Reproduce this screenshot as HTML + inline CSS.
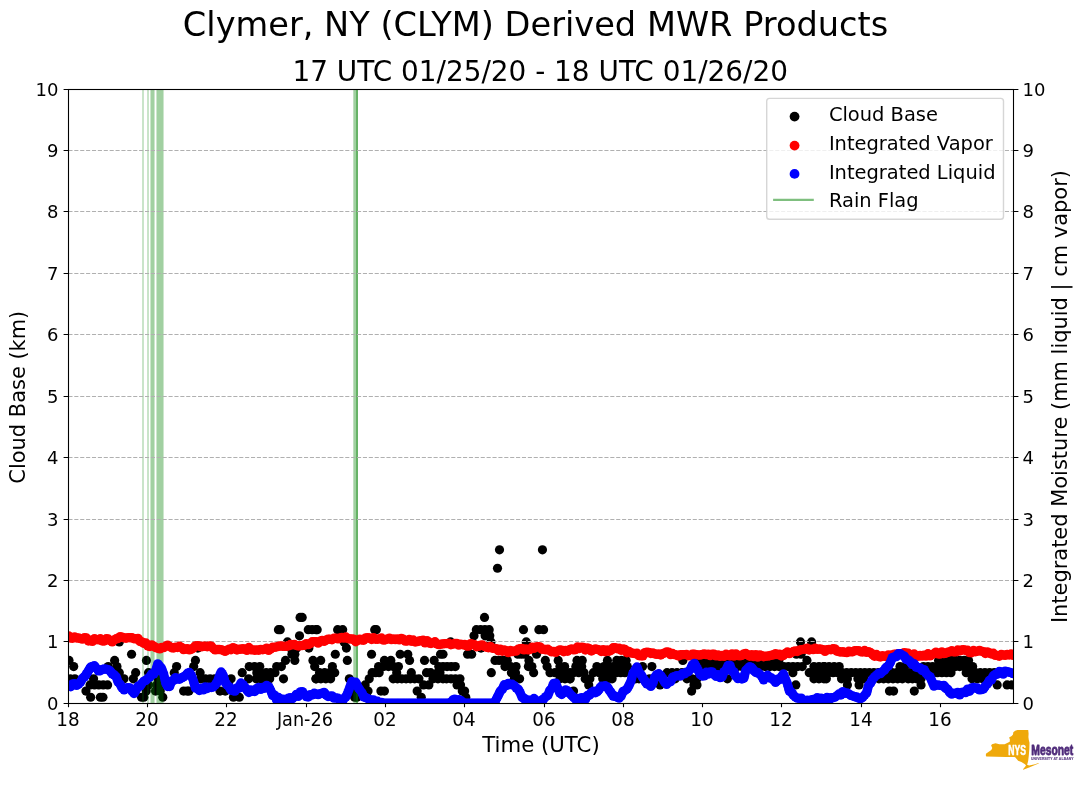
<!DOCTYPE html>
<html lang="en"><head><meta charset="utf-8"><title>Clymer, NY (CLYM) Derived MWR Products</title>
<style>html,body{margin:0;padding:0;background:#fff}body{width:1089px;height:804px;overflow:hidden}svg{display:block;font-family:"DejaVu Sans","Liberation Sans",sans-serif;fill:#000}.t{font-size:18px}.l{font-size:21.25px}.lg{font-size:19.44px}.k{fill:#000}.r{fill:#f00}.b{fill:#00f}.g{stroke:#008000;stroke-opacity:.5;stroke-width:1.4;fill:none}.gr{stroke:#b0b0b0;stroke-width:1.11;stroke-dasharray:4.11 1.78;fill:none}.ax{stroke:#000;stroke-width:1.1;fill:none}</style></head><body>
<svg width="1089" height="804" viewBox="0 0 1089 804">
<rect width="1089" height="804" fill="#fff"/>
<text x="535.55" y="36.3" font-size="33.33" text-anchor="middle" textLength="705.4" lengthAdjust="spacingAndGlyphs">Clymer, NY (CLYM) Derived MWR Products</text>
<text x="540.2" y="80.8" font-size="27.78" text-anchor="middle" textLength="495.5" lengthAdjust="spacingAndGlyphs">17 UTC 01/25/20 - 18 UTC 01/26/20</text>
<defs><clipPath id="c"><rect x="68.5" y="89.5" width="945" height="614"/></clipPath></defs>
<g clip-path="url(#c)">
<g class="k">
<circle cx="90.65" cy="697.26" r="4.6"/>
<circle cx="100.36" cy="697.26" r="4.6"/>
<circle cx="102.93" cy="697.26" r="4.6"/>
<circle cx="141.52" cy="697.26" r="4.6"/>
<circle cx="143.86" cy="697.26" r="4.6"/>
<circle cx="162.8" cy="697.26" r="4.6"/>
<circle cx="85.97" cy="691.11" r="4.6"/>
<circle cx="146.2" cy="691.11" r="4.6"/>
<circle cx="155.55" cy="691.11" r="4.6"/>
<circle cx="160.23" cy="691.11" r="4.6"/>
<circle cx="183.62" cy="691.11" r="4.6"/>
<circle cx="187.13" cy="691.11" r="4.6"/>
<circle cx="90.07" cy="684.97" r="4.6"/>
<circle cx="94.45" cy="684.97" r="4.6"/>
<circle cx="98.84" cy="684.97" r="4.6"/>
<circle cx="103.22" cy="684.97" r="4.6"/>
<circle cx="107.61" cy="684.97" r="4.6"/>
<circle cx="148.54" cy="684.97" r="4.6"/>
<circle cx="156.72" cy="684.97" r="4.6"/>
<circle cx="159.65" cy="684.97" r="4.6"/>
<circle cx="70.19" cy="678.82" r="4.6"/>
<circle cx="74.86" cy="678.82" r="4.6"/>
<circle cx="93.57" cy="678.82" r="4.6"/>
<circle cx="123.98" cy="678.82" r="4.6"/>
<circle cx="133.34" cy="678.82" r="4.6"/>
<circle cx="158.13" cy="678.82" r="4.6"/>
<circle cx="119.3" cy="672.68" r="4.6"/>
<circle cx="135.67" cy="672.68" r="4.6"/>
<circle cx="148.54" cy="672.68" r="4.6"/>
<circle cx="174.27" cy="672.68" r="4.6"/>
<circle cx="73.69" cy="666.54" r="4.6"/>
<circle cx="116.96" cy="666.54" r="4.6"/>
<circle cx="108.19" cy="666.54" r="4.6"/>
<circle cx="176.6" cy="666.54" r="4.6"/>
<circle cx="69.02" cy="660.39" r="4.6"/>
<circle cx="114.62" cy="660.39" r="4.6"/>
<circle cx="146.43" cy="660.39" r="4.6"/>
<circle cx="131.58" cy="654.25" r="4.6"/>
<circle cx="119.3" cy="641.96" r="4.6"/>
<circle cx="300.1" cy="617.38" r="4.6"/>
<circle cx="302.2" cy="617.38" r="4.6"/>
<circle cx="278.46" cy="629.67" r="4.6"/>
<circle cx="280.22" cy="629.67" r="4.6"/>
<circle cx="308.28" cy="629.67" r="4.6"/>
<circle cx="312.14" cy="629.67" r="4.6"/>
<circle cx="316" cy="629.67" r="4.6"/>
<circle cx="299.51" cy="635.82" r="4.6"/>
<circle cx="287.47" cy="641.96" r="4.6"/>
<circle cx="197.77" cy="648.1" r="4.6"/>
<circle cx="308.87" cy="648.1" r="4.6"/>
<circle cx="290.74" cy="648.1" r="4.6"/>
<circle cx="296.59" cy="648.1" r="4.6"/>
<circle cx="291.91" cy="654.25" r="4.6"/>
<circle cx="294.83" cy="654.25" r="4.6"/>
<circle cx="195.43" cy="660.39" r="4.6"/>
<circle cx="285.48" cy="660.39" r="4.6"/>
<circle cx="294.83" cy="660.39" r="4.6"/>
<circle cx="312.96" cy="660.39" r="4.6"/>
<circle cx="193.68" cy="666.54" r="4.6"/>
<circle cx="249.23" cy="666.54" r="4.6"/>
<circle cx="254.49" cy="666.54" r="4.6"/>
<circle cx="259.75" cy="666.54" r="4.6"/>
<circle cx="276.71" cy="666.54" r="4.6"/>
<circle cx="281.38" cy="666.54" r="4.6"/>
<circle cx="314.71" cy="666.54" r="4.6"/>
<circle cx="200.11" cy="672.68" r="4.6"/>
<circle cx="242.21" cy="672.68" r="4.6"/>
<circle cx="256.83" cy="672.68" r="4.6"/>
<circle cx="260.34" cy="672.68" r="4.6"/>
<circle cx="266.18" cy="672.68" r="4.6"/>
<circle cx="270.57" cy="672.68" r="4.6"/>
<circle cx="274.95" cy="672.68" r="4.6"/>
<circle cx="200.69" cy="678.82" r="4.6"/>
<circle cx="205.37" cy="678.82" r="4.6"/>
<circle cx="210.05" cy="678.82" r="4.6"/>
<circle cx="214.73" cy="678.82" r="4.6"/>
<circle cx="231.1" cy="678.82" r="4.6"/>
<circle cx="248.64" cy="678.82" r="4.6"/>
<circle cx="256.24" cy="678.82" r="4.6"/>
<circle cx="260.72" cy="678.82" r="4.6"/>
<circle cx="265.21" cy="678.82" r="4.6"/>
<circle cx="269.69" cy="678.82" r="4.6"/>
<circle cx="283.49" cy="678.82" r="4.6"/>
<circle cx="316" cy="678.82" r="4.6"/>
<circle cx="228.76" cy="684.97" r="4.6"/>
<circle cx="219.99" cy="691.11" r="4.6"/>
<circle cx="225.25" cy="691.11" r="4.6"/>
<circle cx="189" cy="691.11" r="4.6"/>
<circle cx="233.44" cy="697.26" r="4.6"/>
<circle cx="239.29" cy="697.26" r="4.6"/>
<circle cx="317.17" cy="629.67" r="4.6"/>
<circle cx="337.63" cy="629.67" r="4.6"/>
<circle cx="342.66" cy="629.67" r="4.6"/>
<circle cx="374.71" cy="629.67" r="4.6"/>
<circle cx="376.34" cy="629.67" r="4.6"/>
<circle cx="344.07" cy="641.96" r="4.6"/>
<circle cx="346.41" cy="648.1" r="4.6"/>
<circle cx="335.3" cy="654.25" r="4.6"/>
<circle cx="371.55" cy="654.25" r="4.6"/>
<circle cx="400.2" cy="654.25" r="4.6"/>
<circle cx="407.8" cy="654.25" r="4.6"/>
<circle cx="440.54" cy="654.25" r="4.6"/>
<circle cx="320.68" cy="660.39" r="4.6"/>
<circle cx="347.34" cy="660.39" r="4.6"/>
<circle cx="384.41" cy="660.39" r="4.6"/>
<circle cx="390.84" cy="660.39" r="4.6"/>
<circle cx="409.55" cy="660.39" r="4.6"/>
<circle cx="424.52" cy="660.39" r="4.6"/>
<circle cx="434.11" cy="660.39" r="4.6"/>
<circle cx="332.37" cy="666.54" r="4.6"/>
<circle cx="378.56" cy="666.54" r="4.6"/>
<circle cx="383.53" cy="666.54" r="4.6"/>
<circle cx="388.5" cy="666.54" r="4.6"/>
<circle cx="393.47" cy="666.54" r="4.6"/>
<circle cx="398.44" cy="666.54" r="4.6"/>
<circle cx="438.79" cy="666.54" r="4.6"/>
<circle cx="319.51" cy="672.68" r="4.6"/>
<circle cx="324.58" cy="672.68" r="4.6"/>
<circle cx="329.64" cy="672.68" r="4.6"/>
<circle cx="334.71" cy="672.68" r="4.6"/>
<circle cx="372.13" cy="672.68" r="4.6"/>
<circle cx="375.64" cy="672.68" r="4.6"/>
<circle cx="379.15" cy="672.68" r="4.6"/>
<circle cx="396.69" cy="672.68" r="4.6"/>
<circle cx="411.31" cy="672.68" r="4.6"/>
<circle cx="426.51" cy="672.68" r="4.6"/>
<circle cx="430.6" cy="672.68" r="4.6"/>
<circle cx="437.62" cy="672.68" r="4.6"/>
<circle cx="439.96" cy="672.68" r="4.6"/>
<circle cx="316" cy="678.82" r="4.6"/>
<circle cx="320.87" cy="678.82" r="4.6"/>
<circle cx="325.75" cy="678.82" r="4.6"/>
<circle cx="330.62" cy="678.82" r="4.6"/>
<circle cx="349.33" cy="678.82" r="4.6"/>
<circle cx="369.21" cy="678.82" r="4.6"/>
<circle cx="393.18" cy="678.82" r="4.6"/>
<circle cx="397.47" cy="678.82" r="4.6"/>
<circle cx="401.76" cy="678.82" r="4.6"/>
<circle cx="406.05" cy="678.82" r="4.6"/>
<circle cx="410.33" cy="678.82" r="4.6"/>
<circle cx="414.62" cy="678.82" r="4.6"/>
<circle cx="418.91" cy="678.82" r="4.6"/>
<circle cx="432.94" cy="678.82" r="4.6"/>
<circle cx="437.97" cy="678.82" r="4.6"/>
<circle cx="443" cy="678.82" r="4.6"/>
<circle cx="365.12" cy="684.97" r="4.6"/>
<circle cx="423.59" cy="684.97" r="4.6"/>
<circle cx="428.85" cy="684.97" r="4.6"/>
<circle cx="368.04" cy="691.11" r="4.6"/>
<circle cx="380.9" cy="691.11" r="4.6"/>
<circle cx="384.41" cy="691.11" r="4.6"/>
<circle cx="417.16" cy="691.11" r="4.6"/>
<circle cx="421.25" cy="697.26" r="4.6"/>
<circle cx="354.59" cy="697.26" r="4.6"/>
<circle cx="356.93" cy="697.26" r="4.6"/>
<circle cx="355.76" cy="691.11" r="4.6"/>
<circle cx="484.51" cy="617.38" r="4.6"/>
<circle cx="476.33" cy="629.67" r="4.6"/>
<circle cx="480.62" cy="629.67" r="4.6"/>
<circle cx="484.9" cy="629.67" r="4.6"/>
<circle cx="489.19" cy="629.67" r="4.6"/>
<circle cx="523.46" cy="629.67" r="4.6"/>
<circle cx="538.89" cy="629.67" r="4.6"/>
<circle cx="543.57" cy="629.67" r="4.6"/>
<circle cx="473.99" cy="635.82" r="4.6"/>
<circle cx="485.1" cy="635.82" r="4.6"/>
<circle cx="489.78" cy="635.82" r="4.6"/>
<circle cx="450.6" cy="641.96" r="4.6"/>
<circle cx="490.95" cy="641.96" r="4.6"/>
<circle cx="526.26" cy="641.96" r="4.6"/>
<circle cx="481.01" cy="648.1" r="4.6"/>
<circle cx="443" cy="654.25" r="4.6"/>
<circle cx="467.56" cy="654.25" r="4.6"/>
<circle cx="471.65" cy="654.25" r="4.6"/>
<circle cx="517.84" cy="654.25" r="4.6"/>
<circle cx="521.35" cy="654.25" r="4.6"/>
<circle cx="524.86" cy="654.25" r="4.6"/>
<circle cx="536.55" cy="654.25" r="4.6"/>
<circle cx="495.04" cy="660.39" r="4.6"/>
<circle cx="499.13" cy="660.39" r="4.6"/>
<circle cx="503.23" cy="660.39" r="4.6"/>
<circle cx="507.32" cy="660.39" r="4.6"/>
<circle cx="528.95" cy="660.39" r="4.6"/>
<circle cx="545.33" cy="660.39" r="4.6"/>
<circle cx="558.19" cy="660.39" r="4.6"/>
<circle cx="443" cy="666.54" r="4.6"/>
<circle cx="447.09" cy="666.54" r="4.6"/>
<circle cx="451.19" cy="666.54" r="4.6"/>
<circle cx="455.28" cy="666.54" r="4.6"/>
<circle cx="504.98" cy="666.54" r="4.6"/>
<circle cx="510.53" cy="666.54" r="4.6"/>
<circle cx="516.09" cy="666.54" r="4.6"/>
<circle cx="528.37" cy="666.54" r="4.6"/>
<circle cx="531.88" cy="666.54" r="4.6"/>
<circle cx="547.08" cy="666.54" r="4.6"/>
<circle cx="559.94" cy="666.54" r="4.6"/>
<circle cx="564.62" cy="666.54" r="4.6"/>
<circle cx="491.3" cy="672.68" r="4.6"/>
<circle cx="511.41" cy="672.68" r="4.6"/>
<circle cx="515.5" cy="672.68" r="4.6"/>
<circle cx="533.63" cy="672.68" r="4.6"/>
<circle cx="550" cy="672.68" r="4.6"/>
<circle cx="555" cy="672.68" r="4.6"/>
<circle cx="560" cy="672.68" r="4.6"/>
<circle cx="565" cy="672.68" r="4.6"/>
<circle cx="570" cy="672.68" r="4.6"/>
<circle cx="446.51" cy="678.82" r="4.6"/>
<circle cx="450.99" cy="678.82" r="4.6"/>
<circle cx="455.47" cy="678.82" r="4.6"/>
<circle cx="459.96" cy="678.82" r="4.6"/>
<circle cx="514.34" cy="678.82" r="4.6"/>
<circle cx="519.6" cy="678.82" r="4.6"/>
<circle cx="559.94" cy="678.82" r="4.6"/>
<circle cx="564.97" cy="678.82" r="4.6"/>
<circle cx="570" cy="678.82" r="4.6"/>
<circle cx="457.03" cy="684.97" r="4.6"/>
<circle cx="460.54" cy="684.97" r="4.6"/>
<circle cx="462.3" cy="691.11" r="4.6"/>
<circle cx="464.63" cy="691.11" r="4.6"/>
<circle cx="465.8" cy="697.26" r="4.6"/>
<circle cx="577.02" cy="660.39" r="4.6"/>
<circle cx="582.28" cy="660.39" r="4.6"/>
<circle cx="607.42" cy="660.39" r="4.6"/>
<circle cx="616.78" cy="660.39" r="4.6"/>
<circle cx="621.45" cy="660.39" r="4.6"/>
<circle cx="626.13" cy="660.39" r="4.6"/>
<circle cx="682.85" cy="660.39" r="4.6"/>
<circle cx="575.85" cy="666.54" r="4.6"/>
<circle cx="581.69" cy="666.54" r="4.6"/>
<circle cx="596.9" cy="666.54" r="4.6"/>
<circle cx="603.91" cy="666.54" r="4.6"/>
<circle cx="608.59" cy="666.54" r="4.6"/>
<circle cx="613.27" cy="666.54" r="4.6"/>
<circle cx="617.95" cy="666.54" r="4.6"/>
<circle cx="622.62" cy="666.54" r="4.6"/>
<circle cx="627.3" cy="666.54" r="4.6"/>
<circle cx="642.5" cy="666.54" r="4.6"/>
<circle cx="651.86" cy="666.54" r="4.6"/>
<circle cx="573.51" cy="672.68" r="4.6"/>
<circle cx="578.77" cy="672.68" r="4.6"/>
<circle cx="584.03" cy="672.68" r="4.6"/>
<circle cx="593.39" cy="672.68" r="4.6"/>
<circle cx="599.24" cy="672.68" r="4.6"/>
<circle cx="603.52" cy="672.68" r="4.6"/>
<circle cx="607.81" cy="672.68" r="4.6"/>
<circle cx="612.1" cy="672.68" r="4.6"/>
<circle cx="616.39" cy="672.68" r="4.6"/>
<circle cx="620.68" cy="672.68" r="4.6"/>
<circle cx="624.96" cy="672.68" r="4.6"/>
<circle cx="667.06" cy="672.68" r="4.6"/>
<circle cx="672.03" cy="672.68" r="4.6"/>
<circle cx="677" cy="672.68" r="4.6"/>
<circle cx="681.97" cy="672.68" r="4.6"/>
<circle cx="686.94" cy="672.68" r="4.6"/>
<circle cx="570" cy="678.82" r="4.6"/>
<circle cx="585.2" cy="678.82" r="4.6"/>
<circle cx="589.88" cy="678.82" r="4.6"/>
<circle cx="602.74" cy="678.82" r="4.6"/>
<circle cx="607.42" cy="678.82" r="4.6"/>
<circle cx="612.1" cy="678.82" r="4.6"/>
<circle cx="635.49" cy="678.82" r="4.6"/>
<circle cx="639" cy="678.82" r="4.6"/>
<circle cx="642.5" cy="678.82" r="4.6"/>
<circle cx="649.52" cy="678.82" r="4.6"/>
<circle cx="675.25" cy="678.82" r="4.6"/>
<circle cx="686.94" cy="678.82" r="4.6"/>
<circle cx="691.97" cy="678.82" r="4.6"/>
<circle cx="697" cy="678.82" r="4.6"/>
<circle cx="588.71" cy="684.97" r="4.6"/>
<circle cx="660.05" cy="684.97" r="4.6"/>
<circle cx="693.96" cy="684.97" r="4.6"/>
<circle cx="573.51" cy="691.11" r="4.6"/>
<circle cx="691.62" cy="691.11" r="4.6"/>
<circle cx="800.49" cy="641.96" r="4.6"/>
<circle cx="811.6" cy="641.96" r="4.6"/>
<circle cx="796.4" cy="654.25" r="4.6"/>
<circle cx="801.08" cy="654.25" r="4.6"/>
<circle cx="806.93" cy="660.39" r="4.6"/>
<circle cx="700.51" cy="660.39" r="4.6"/>
<circle cx="705.12" cy="660.39" r="4.6"/>
<circle cx="709.73" cy="660.39" r="4.6"/>
<circle cx="714.34" cy="660.39" r="4.6"/>
<circle cx="718.94" cy="660.39" r="4.6"/>
<circle cx="723.55" cy="660.39" r="4.6"/>
<circle cx="728.16" cy="660.39" r="4.6"/>
<circle cx="732.77" cy="660.39" r="4.6"/>
<circle cx="737.38" cy="660.39" r="4.6"/>
<circle cx="741.99" cy="660.39" r="4.6"/>
<circle cx="746.6" cy="660.39" r="4.6"/>
<circle cx="751.21" cy="660.39" r="4.6"/>
<circle cx="755.82" cy="660.39" r="4.6"/>
<circle cx="760.42" cy="660.39" r="4.6"/>
<circle cx="765.03" cy="660.39" r="4.6"/>
<circle cx="769.64" cy="660.39" r="4.6"/>
<circle cx="774.25" cy="660.39" r="4.6"/>
<circle cx="778.86" cy="660.39" r="4.6"/>
<circle cx="700.51" cy="666.54" r="4.6"/>
<circle cx="705.13" cy="666.54" r="4.6"/>
<circle cx="709.76" cy="666.54" r="4.6"/>
<circle cx="714.38" cy="666.54" r="4.6"/>
<circle cx="719.01" cy="666.54" r="4.6"/>
<circle cx="723.63" cy="666.54" r="4.6"/>
<circle cx="728.26" cy="666.54" r="4.6"/>
<circle cx="732.88" cy="666.54" r="4.6"/>
<circle cx="737.5" cy="666.54" r="4.6"/>
<circle cx="742.13" cy="666.54" r="4.6"/>
<circle cx="746.75" cy="666.54" r="4.6"/>
<circle cx="751.38" cy="666.54" r="4.6"/>
<circle cx="756" cy="666.54" r="4.6"/>
<circle cx="760.63" cy="666.54" r="4.6"/>
<circle cx="765.25" cy="666.54" r="4.6"/>
<circle cx="769.88" cy="666.54" r="4.6"/>
<circle cx="774.5" cy="666.54" r="4.6"/>
<circle cx="779.13" cy="666.54" r="4.6"/>
<circle cx="783.75" cy="666.54" r="4.6"/>
<circle cx="788.37" cy="666.54" r="4.6"/>
<circle cx="793" cy="666.54" r="4.6"/>
<circle cx="797.62" cy="666.54" r="4.6"/>
<circle cx="802.25" cy="666.54" r="4.6"/>
<circle cx="813.94" cy="666.54" r="4.6"/>
<circle cx="818.97" cy="666.54" r="4.6"/>
<circle cx="824" cy="666.54" r="4.6"/>
<circle cx="792.89" cy="672.68" r="4.6"/>
<circle cx="809.27" cy="672.68" r="4.6"/>
<circle cx="814.18" cy="672.68" r="4.6"/>
<circle cx="819.09" cy="672.68" r="4.6"/>
<circle cx="824" cy="672.68" r="4.6"/>
<circle cx="727.41" cy="678.82" r="4.6"/>
<circle cx="813.94" cy="678.82" r="4.6"/>
<circle cx="818.97" cy="678.82" r="4.6"/>
<circle cx="824" cy="678.82" r="4.6"/>
<circle cx="795.82" cy="684.97" r="4.6"/>
<circle cx="697" cy="684.97" r="4.6"/>
<circle cx="938.6" cy="660.39" r="4.6"/>
<circle cx="942.74" cy="660.39" r="4.6"/>
<circle cx="946.87" cy="660.39" r="4.6"/>
<circle cx="951" cy="660.39" r="4.6"/>
<circle cx="824" cy="666.54" r="4.6"/>
<circle cx="829.07" cy="666.54" r="4.6"/>
<circle cx="834.14" cy="666.54" r="4.6"/>
<circle cx="839.2" cy="666.54" r="4.6"/>
<circle cx="900.01" cy="666.54" r="4.6"/>
<circle cx="904.69" cy="666.54" r="4.6"/>
<circle cx="923.4" cy="666.54" r="4.6"/>
<circle cx="928" cy="666.54" r="4.6"/>
<circle cx="932.6" cy="666.54" r="4.6"/>
<circle cx="937.2" cy="666.54" r="4.6"/>
<circle cx="941.8" cy="666.54" r="4.6"/>
<circle cx="946.4" cy="666.54" r="4.6"/>
<circle cx="951" cy="666.54" r="4.6"/>
<circle cx="824" cy="672.68" r="4.6"/>
<circle cx="828.54" cy="672.68" r="4.6"/>
<circle cx="833.07" cy="672.68" r="4.6"/>
<circle cx="837.61" cy="672.68" r="4.6"/>
<circle cx="842.14" cy="672.68" r="4.6"/>
<circle cx="846.68" cy="672.68" r="4.6"/>
<circle cx="851.21" cy="672.68" r="4.6"/>
<circle cx="855.75" cy="672.68" r="4.6"/>
<circle cx="860.29" cy="672.68" r="4.6"/>
<circle cx="864.82" cy="672.68" r="4.6"/>
<circle cx="869.36" cy="672.68" r="4.6"/>
<circle cx="873.89" cy="672.68" r="4.6"/>
<circle cx="878.43" cy="672.68" r="4.6"/>
<circle cx="882.96" cy="672.68" r="4.6"/>
<circle cx="887.5" cy="672.68" r="4.6"/>
<circle cx="892.04" cy="672.68" r="4.6"/>
<circle cx="896.57" cy="672.68" r="4.6"/>
<circle cx="901.11" cy="672.68" r="4.6"/>
<circle cx="905.64" cy="672.68" r="4.6"/>
<circle cx="910.18" cy="672.68" r="4.6"/>
<circle cx="914.71" cy="672.68" r="4.6"/>
<circle cx="919.25" cy="672.68" r="4.6"/>
<circle cx="923.79" cy="672.68" r="4.6"/>
<circle cx="928.32" cy="672.68" r="4.6"/>
<circle cx="932.86" cy="672.68" r="4.6"/>
<circle cx="937.39" cy="672.68" r="4.6"/>
<circle cx="941.93" cy="672.68" r="4.6"/>
<circle cx="946.46" cy="672.68" r="4.6"/>
<circle cx="951" cy="672.68" r="4.6"/>
<circle cx="826.34" cy="678.82" r="4.6"/>
<circle cx="841.54" cy="678.82" r="4.6"/>
<circle cx="847.39" cy="678.82" r="4.6"/>
<circle cx="857.91" cy="678.82" r="4.6"/>
<circle cx="863.76" cy="678.82" r="4.6"/>
<circle cx="878.96" cy="678.82" r="4.6"/>
<circle cx="883.64" cy="678.82" r="4.6"/>
<circle cx="888.32" cy="678.82" r="4.6"/>
<circle cx="893" cy="678.82" r="4.6"/>
<circle cx="897.67" cy="678.82" r="4.6"/>
<circle cx="902.35" cy="678.82" r="4.6"/>
<circle cx="908.2" cy="678.82" r="4.6"/>
<circle cx="912.49" cy="678.82" r="4.6"/>
<circle cx="916.77" cy="678.82" r="4.6"/>
<circle cx="921.06" cy="678.82" r="4.6"/>
<circle cx="847.39" cy="684.97" r="4.6"/>
<circle cx="859.08" cy="684.97" r="4.6"/>
<circle cx="921.06" cy="684.97" r="4.6"/>
<circle cx="889.49" cy="691.11" r="4.6"/>
<circle cx="893.58" cy="691.11" r="4.6"/>
<circle cx="914.28" cy="691.11" r="4.6"/>
<circle cx="951" cy="660.39" r="4.6"/>
<circle cx="955.39" cy="660.39" r="4.6"/>
<circle cx="959.77" cy="660.39" r="4.6"/>
<circle cx="964.16" cy="660.39" r="4.6"/>
<circle cx="968.54" cy="660.39" r="4.6"/>
<circle cx="951" cy="666.54" r="4.6"/>
<circle cx="955.33" cy="666.54" r="4.6"/>
<circle cx="959.65" cy="666.54" r="4.6"/>
<circle cx="963.98" cy="666.54" r="4.6"/>
<circle cx="968.31" cy="666.54" r="4.6"/>
<circle cx="972.63" cy="666.54" r="4.6"/>
<circle cx="966.2" cy="672.68" r="4.6"/>
<circle cx="970.88" cy="672.68" r="4.6"/>
<circle cx="975.56" cy="672.68" r="4.6"/>
<circle cx="980.24" cy="672.68" r="4.6"/>
<circle cx="984.91" cy="672.68" r="4.6"/>
<circle cx="989.59" cy="672.68" r="4.6"/>
<circle cx="994.27" cy="672.68" r="4.6"/>
<circle cx="972.05" cy="678.82" r="4.6"/>
<circle cx="977.31" cy="678.82" r="4.6"/>
<circle cx="982.57" cy="678.82" r="4.6"/>
<circle cx="997.19" cy="684.97" r="4.6"/>
<circle cx="1007.13" cy="684.97" r="4.6"/>
<circle cx="1011.81" cy="684.97" r="4.6"/>
<circle cx="497.5" cy="568.23" r="4.6"/>
<circle cx="499.5" cy="549.8" r="4.6"/>
<circle cx="542.45" cy="549.8" r="4.6"/>
</g>
<g fill="#008000" shape-rendering="crispEdges">
<rect x="142" y="89.5" width="2" height="614" fill-opacity="0.21"/>
<rect x="147" y="89.5" width="2" height="614" fill-opacity="0.21"/>
<rect x="150" y="89.5" width="1" height="614" fill-opacity="0.2"/>
<rect x="151" y="89.5" width="3" height="614" fill-opacity="0.37"/>
<rect x="154" y="89.5" width="1" height="614" fill-opacity="0.2"/>
<rect x="156" y="89.5" width="1" height="614" fill-opacity="0.2"/>
<rect x="157" y="89.5" width="6" height="614" fill-opacity="0.37"/>
<rect x="163" y="89.5" width="1" height="614" fill-opacity="0.2"/>
<rect x="353" y="89.5" width="1" height="614" fill-opacity="0.25"/>
<rect x="354" y="89.5" width="2" height="614" fill-opacity="0.37"/>
<rect x="356" y="89.5" width="2" height="614" fill-opacity="0.6"/>
</g>
<g class="gr">
<path d="M68.4 641.5H1013.5"/>
<path d="M68.4 580.5H1013.5"/>
<path d="M68.4 519.5H1013.5"/>
<path d="M68.4 457.5H1013.5"/>
<path d="M68.4 396.5H1013.5"/>
<path d="M68.4 334.5H1013.5"/>
<path d="M68.4 273.5H1013.5"/>
<path d="M68.4 211.5H1013.5"/>
<path d="M68.4 150.5H1013.5"/>
</g>
<g class="r">
<circle cx="68.67" cy="635.88" r="4.7"/>
<circle cx="70.65" cy="638.16" r="4.7"/>
<circle cx="72.63" cy="638.21" r="4.7"/>
<circle cx="74.61" cy="637.07" r="4.7"/>
<circle cx="76.59" cy="637.97" r="4.7"/>
<circle cx="78.57" cy="637.94" r="4.7"/>
<circle cx="80.55" cy="638.61" r="4.7"/>
<circle cx="82.53" cy="639.09" r="4.7"/>
<circle cx="84.51" cy="637.63" r="4.7"/>
<circle cx="86.49" cy="638.06" r="4.7"/>
<circle cx="87.48" cy="639.51" r="4.7"/>
<circle cx="88.47" cy="640.95" r="4.7"/>
<circle cx="90.45" cy="640.44" r="4.7"/>
<circle cx="92.43" cy="641.33" r="4.7"/>
<circle cx="93.42" cy="640.04" r="4.7"/>
<circle cx="94.41" cy="638.74" r="4.7"/>
<circle cx="96.39" cy="639.52" r="4.7"/>
<circle cx="98.37" cy="639.87" r="4.7"/>
<circle cx="100.35" cy="638.71" r="4.7"/>
<circle cx="102.33" cy="640.94" r="4.7"/>
<circle cx="104.31" cy="641.04" r="4.7"/>
<circle cx="106.29" cy="638.82" r="4.7"/>
<circle cx="108.27" cy="639.02" r="4.7"/>
<circle cx="110.25" cy="640.6" r="4.7"/>
<circle cx="112.23" cy="641.81" r="4.7"/>
<circle cx="114.21" cy="640.01" r="4.7"/>
<circle cx="116.19" cy="638.76" r="4.7"/>
<circle cx="118.17" cy="638.54" r="4.7"/>
<circle cx="120.15" cy="636.65" r="4.7"/>
<circle cx="122.13" cy="637.17" r="4.7"/>
<circle cx="124.11" cy="637.91" r="4.7"/>
<circle cx="126.09" cy="638.2" r="4.7"/>
<circle cx="128.07" cy="637.59" r="4.7"/>
<circle cx="130.05" cy="637.71" r="4.7"/>
<circle cx="132.03" cy="637.79" r="4.7"/>
<circle cx="134.01" cy="638.7" r="4.7"/>
<circle cx="135.99" cy="638.7" r="4.7"/>
<circle cx="137.97" cy="638.43" r="4.7"/>
<circle cx="138.96" cy="639.95" r="4.7"/>
<circle cx="139.95" cy="641.48" r="4.7"/>
<circle cx="141.93" cy="641.93" r="4.7"/>
<circle cx="143.91" cy="643.4" r="4.7"/>
<circle cx="145.89" cy="642.95" r="4.7"/>
<circle cx="146.88" cy="644.49" r="4.7"/>
<circle cx="147.87" cy="646.03" r="4.7"/>
<circle cx="149.85" cy="646.48" r="4.7"/>
<circle cx="151.83" cy="645.07" r="4.7"/>
<circle cx="153.81" cy="646.12" r="4.7"/>
<circle cx="155.79" cy="647.67" r="4.7"/>
<circle cx="157.77" cy="648.1" r="4.7"/>
<circle cx="159.75" cy="648.89" r="4.7"/>
<circle cx="161.73" cy="647.4" r="4.7"/>
<circle cx="163.71" cy="647.61" r="4.7"/>
<circle cx="165.69" cy="646.22" r="4.7"/>
<circle cx="167.67" cy="645.32" r="4.7"/>
<circle cx="169.65" cy="646.51" r="4.7"/>
<circle cx="171.63" cy="647.73" r="4.7"/>
<circle cx="173.61" cy="647.96" r="4.7"/>
<circle cx="175.59" cy="647.12" r="4.7"/>
<circle cx="177.57" cy="647.48" r="4.7"/>
<circle cx="179.55" cy="646.2" r="4.7"/>
<circle cx="181.53" cy="647.41" r="4.7"/>
<circle cx="183.51" cy="649.6" r="4.7"/>
<circle cx="185.49" cy="649.07" r="4.7"/>
<circle cx="187.47" cy="648.78" r="4.7"/>
<circle cx="189.45" cy="649.87" r="4.7"/>
<circle cx="191.43" cy="649.15" r="4.7"/>
<circle cx="193.41" cy="647.92" r="4.7"/>
<circle cx="195.39" cy="645.92" r="4.7"/>
<circle cx="197.37" cy="645.78" r="4.7"/>
<circle cx="199.35" cy="646.04" r="4.7"/>
<circle cx="201.33" cy="646.86" r="4.7"/>
<circle cx="203.31" cy="646.24" r="4.7"/>
<circle cx="205.29" cy="646.21" r="4.7"/>
<circle cx="207.27" cy="646.8" r="4.7"/>
<circle cx="209.25" cy="645.83" r="4.7"/>
<circle cx="211.23" cy="646.19" r="4.7"/>
<circle cx="213.21" cy="648.49" r="4.7"/>
<circle cx="215.19" cy="649.92" r="4.7"/>
<circle cx="217.17" cy="649.47" r="4.7"/>
<circle cx="219.15" cy="649.56" r="4.7"/>
<circle cx="221.13" cy="649.58" r="4.7"/>
<circle cx="223.11" cy="650.41" r="4.7"/>
<circle cx="225.09" cy="651.31" r="4.7"/>
<circle cx="227.07" cy="650.29" r="4.7"/>
<circle cx="229.05" cy="649.23" r="4.7"/>
<circle cx="231.03" cy="649.73" r="4.7"/>
<circle cx="233.01" cy="647.58" r="4.7"/>
<circle cx="234.99" cy="648.5" r="4.7"/>
<circle cx="236.97" cy="650.01" r="4.7"/>
<circle cx="238.95" cy="649.25" r="4.7"/>
<circle cx="240.93" cy="649.2" r="4.7"/>
<circle cx="242.91" cy="648.68" r="4.7"/>
<circle cx="244.89" cy="649.31" r="4.7"/>
<circle cx="246.87" cy="650.32" r="4.7"/>
<circle cx="247.86" cy="648.92" r="4.7"/>
<circle cx="248.85" cy="647.51" r="4.7"/>
<circle cx="250.83" cy="649.68" r="4.7"/>
<circle cx="252.81" cy="649.91" r="4.7"/>
<circle cx="254.79" cy="650.21" r="4.7"/>
<circle cx="256.77" cy="649.92" r="4.7"/>
<circle cx="258.75" cy="650.23" r="4.7"/>
<circle cx="260.73" cy="649.54" r="4.7"/>
<circle cx="262.71" cy="649.68" r="4.7"/>
<circle cx="264.69" cy="649.27" r="4.7"/>
<circle cx="266.67" cy="648.2" r="4.7"/>
<circle cx="268.65" cy="650.41" r="4.7"/>
<circle cx="270.63" cy="648.91" r="4.7"/>
<circle cx="272.61" cy="647.21" r="4.7"/>
<circle cx="274.59" cy="647.41" r="4.7"/>
<circle cx="276.57" cy="646.9" r="4.7"/>
<circle cx="278.55" cy="646.27" r="4.7"/>
<circle cx="280.53" cy="645.98" r="4.7"/>
<circle cx="282.51" cy="646.25" r="4.7"/>
<circle cx="284.49" cy="646.42" r="4.7"/>
<circle cx="286.47" cy="646.32" r="4.7"/>
<circle cx="288.45" cy="645.83" r="4.7"/>
<circle cx="290.43" cy="644.5" r="4.7"/>
<circle cx="292.41" cy="644.86" r="4.7"/>
<circle cx="294.39" cy="644.52" r="4.7"/>
<circle cx="296.37" cy="645.46" r="4.7"/>
<circle cx="298.35" cy="646.04" r="4.7"/>
<circle cx="300.33" cy="645.69" r="4.7"/>
<circle cx="302.31" cy="645.52" r="4.7"/>
<circle cx="304.29" cy="645.41" r="4.7"/>
<circle cx="306.27" cy="643.6" r="4.7"/>
<circle cx="308.25" cy="644.65" r="4.7"/>
<circle cx="310.23" cy="643.59" r="4.7"/>
<circle cx="312.21" cy="641.82" r="4.7"/>
<circle cx="314.19" cy="641.63" r="4.7"/>
<circle cx="316.17" cy="641.58" r="4.7"/>
<circle cx="318.15" cy="643.16" r="4.7"/>
<circle cx="320.13" cy="641.25" r="4.7"/>
<circle cx="322.11" cy="640.36" r="4.7"/>
<circle cx="324.09" cy="641.4" r="4.7"/>
<circle cx="326.07" cy="640.29" r="4.7"/>
<circle cx="328.05" cy="639.19" r="4.7"/>
<circle cx="330.03" cy="639.11" r="4.7"/>
<circle cx="332.01" cy="639.69" r="4.7"/>
<circle cx="333.99" cy="638.24" r="4.7"/>
<circle cx="335.97" cy="638.09" r="4.7"/>
<circle cx="337.95" cy="638.87" r="4.7"/>
<circle cx="339.93" cy="637.85" r="4.7"/>
<circle cx="341.91" cy="637.56" r="4.7"/>
<circle cx="343.89" cy="638.06" r="4.7"/>
<circle cx="345.87" cy="637" r="4.7"/>
<circle cx="347.85" cy="638.48" r="4.7"/>
<circle cx="349.83" cy="639.04" r="4.7"/>
<circle cx="351.81" cy="638.85" r="4.7"/>
<circle cx="353.79" cy="639.09" r="4.7"/>
<circle cx="354.78" cy="640.43" r="4.7"/>
<circle cx="355.77" cy="641.76" r="4.7"/>
<circle cx="357.75" cy="640.34" r="4.7"/>
<circle cx="359.73" cy="639.17" r="4.7"/>
<circle cx="361.71" cy="639.95" r="4.7"/>
<circle cx="363.69" cy="640.3" r="4.7"/>
<circle cx="365.67" cy="637.93" r="4.7"/>
<circle cx="367.65" cy="637.78" r="4.7"/>
<circle cx="369.63" cy="638.01" r="4.7"/>
<circle cx="371.61" cy="639.47" r="4.7"/>
<circle cx="373.59" cy="637.77" r="4.7"/>
<circle cx="375.57" cy="639.25" r="4.7"/>
<circle cx="377.55" cy="639.22" r="4.7"/>
<circle cx="379.53" cy="638.88" r="4.7"/>
<circle cx="381.51" cy="638.02" r="4.7"/>
<circle cx="383.49" cy="640.17" r="4.7"/>
<circle cx="385.47" cy="639.71" r="4.7"/>
<circle cx="387.45" cy="639" r="4.7"/>
<circle cx="389.43" cy="638.28" r="4.7"/>
<circle cx="391.41" cy="639.57" r="4.7"/>
<circle cx="393.39" cy="638.96" r="4.7"/>
<circle cx="395.37" cy="639.56" r="4.7"/>
<circle cx="397.35" cy="638.95" r="4.7"/>
<circle cx="399.33" cy="639.92" r="4.7"/>
<circle cx="401.31" cy="638.41" r="4.7"/>
<circle cx="403.29" cy="639.18" r="4.7"/>
<circle cx="405.27" cy="641.16" r="4.7"/>
<circle cx="407.25" cy="641" r="4.7"/>
<circle cx="409.23" cy="639.5" r="4.7"/>
<circle cx="411.21" cy="641.26" r="4.7"/>
<circle cx="413.19" cy="639.96" r="4.7"/>
<circle cx="415.17" cy="641.96" r="4.7"/>
<circle cx="417.15" cy="641.65" r="4.7"/>
<circle cx="419.13" cy="640.97" r="4.7"/>
<circle cx="421.11" cy="640.75" r="4.7"/>
<circle cx="423.09" cy="640.23" r="4.7"/>
<circle cx="424.08" cy="641.53" r="4.7"/>
<circle cx="425.07" cy="642.83" r="4.7"/>
<circle cx="427.05" cy="640.63" r="4.7"/>
<circle cx="429.03" cy="642.98" r="4.7"/>
<circle cx="431.01" cy="643.54" r="4.7"/>
<circle cx="432.99" cy="642.6" r="4.7"/>
<circle cx="434.97" cy="641.77" r="4.7"/>
<circle cx="436.95" cy="644.01" r="4.7"/>
<circle cx="438.93" cy="644.59" r="4.7"/>
<circle cx="440.91" cy="644.13" r="4.7"/>
<circle cx="442.89" cy="643.87" r="4.7"/>
<circle cx="444.87" cy="643.6" r="4.7"/>
<circle cx="446.85" cy="643.59" r="4.7"/>
<circle cx="448.83" cy="643.28" r="4.7"/>
<circle cx="450.81" cy="644.68" r="4.7"/>
<circle cx="452.79" cy="644.12" r="4.7"/>
<circle cx="454.77" cy="643.56" r="4.7"/>
<circle cx="456.75" cy="643.42" r="4.7"/>
<circle cx="458.73" cy="645.1" r="4.7"/>
<circle cx="460.71" cy="644.17" r="4.7"/>
<circle cx="462.69" cy="644.8" r="4.7"/>
<circle cx="464.67" cy="644.37" r="4.7"/>
<circle cx="466.65" cy="645.96" r="4.7"/>
<circle cx="468.63" cy="646.1" r="4.7"/>
<circle cx="470.61" cy="643.69" r="4.7"/>
<circle cx="472.59" cy="644.27" r="4.7"/>
<circle cx="474.57" cy="644.77" r="4.7"/>
<circle cx="476.55" cy="646.75" r="4.7"/>
<circle cx="478.53" cy="646.32" r="4.7"/>
<circle cx="480.51" cy="645.22" r="4.7"/>
<circle cx="482.49" cy="645" r="4.7"/>
<circle cx="484.47" cy="646.47" r="4.7"/>
<circle cx="486.45" cy="647.21" r="4.7"/>
<circle cx="488.43" cy="647.76" r="4.7"/>
<circle cx="490.41" cy="646.39" r="4.7"/>
<circle cx="492.39" cy="648.24" r="4.7"/>
<circle cx="494.37" cy="648.42" r="4.7"/>
<circle cx="496.35" cy="648.58" r="4.7"/>
<circle cx="498.33" cy="650.71" r="4.7"/>
<circle cx="500.31" cy="649.26" r="4.7"/>
<circle cx="502.29" cy="651.22" r="4.7"/>
<circle cx="504.27" cy="650.02" r="4.7"/>
<circle cx="506.25" cy="650.81" r="4.7"/>
<circle cx="508.23" cy="652.63" r="4.7"/>
<circle cx="510.21" cy="650.41" r="4.7"/>
<circle cx="512.19" cy="651.67" r="4.7"/>
<circle cx="514.17" cy="650.86" r="4.7"/>
<circle cx="516.15" cy="651.08" r="4.7"/>
<circle cx="518.13" cy="649.29" r="4.7"/>
<circle cx="520.11" cy="648.75" r="4.7"/>
<circle cx="522.09" cy="648.44" r="4.7"/>
<circle cx="524.07" cy="649.88" r="4.7"/>
<circle cx="526.05" cy="648.98" r="4.7"/>
<circle cx="528.03" cy="649.81" r="4.7"/>
<circle cx="530.01" cy="649.5" r="4.7"/>
<circle cx="531.99" cy="647.27" r="4.7"/>
<circle cx="533.97" cy="648.31" r="4.7"/>
<circle cx="535.95" cy="646.94" r="4.7"/>
<circle cx="537.93" cy="646.77" r="4.7"/>
<circle cx="539.91" cy="646.93" r="4.7"/>
<circle cx="541.89" cy="649.21" r="4.7"/>
<circle cx="543.87" cy="649.15" r="4.7"/>
<circle cx="545.85" cy="649.92" r="4.7"/>
<circle cx="547.83" cy="649.22" r="4.7"/>
<circle cx="549.81" cy="650.64" r="4.7"/>
<circle cx="551.79" cy="651.82" r="4.7"/>
<circle cx="553.77" cy="651.43" r="4.7"/>
<circle cx="555.75" cy="652.41" r="4.7"/>
<circle cx="557.73" cy="650.95" r="4.7"/>
<circle cx="559.71" cy="650.05" r="4.7"/>
<circle cx="561.69" cy="650.27" r="4.7"/>
<circle cx="563.67" cy="651.74" r="4.7"/>
<circle cx="565.65" cy="650.55" r="4.7"/>
<circle cx="567.63" cy="651.29" r="4.7"/>
<circle cx="569.61" cy="649.7" r="4.7"/>
<circle cx="571.59" cy="648.84" r="4.7"/>
<circle cx="573.57" cy="649.9" r="4.7"/>
<circle cx="575.55" cy="649.64" r="4.7"/>
<circle cx="576.54" cy="648.31" r="4.7"/>
<circle cx="577.53" cy="646.99" r="4.7"/>
<circle cx="579.51" cy="648.51" r="4.7"/>
<circle cx="581.49" cy="647.16" r="4.7"/>
<circle cx="583.47" cy="647.51" r="4.7"/>
<circle cx="585.45" cy="649.94" r="4.7"/>
<circle cx="587.43" cy="647.85" r="4.7"/>
<circle cx="589.41" cy="648.69" r="4.7"/>
<circle cx="591.39" cy="651.05" r="4.7"/>
<circle cx="593.37" cy="649.68" r="4.7"/>
<circle cx="595.35" cy="649.04" r="4.7"/>
<circle cx="597.33" cy="649.41" r="4.7"/>
<circle cx="599.31" cy="649.83" r="4.7"/>
<circle cx="601.29" cy="651.46" r="4.7"/>
<circle cx="603.27" cy="649.75" r="4.7"/>
<circle cx="605.25" cy="651.73" r="4.7"/>
<circle cx="607.23" cy="649.96" r="4.7"/>
<circle cx="609.21" cy="651.19" r="4.7"/>
<circle cx="611.19" cy="650.22" r="4.7"/>
<circle cx="612.18" cy="648.97" r="4.7"/>
<circle cx="613.17" cy="647.71" r="4.7"/>
<circle cx="615.15" cy="647.65" r="4.7"/>
<circle cx="617.13" cy="648.78" r="4.7"/>
<circle cx="619.11" cy="648.23" r="4.7"/>
<circle cx="621.09" cy="650.28" r="4.7"/>
<circle cx="623.07" cy="649.07" r="4.7"/>
<circle cx="625.05" cy="649.5" r="4.7"/>
<circle cx="626.04" cy="651.12" r="4.7"/>
<circle cx="627.03" cy="652.73" r="4.7"/>
<circle cx="629.01" cy="651.37" r="4.7"/>
<circle cx="630.99" cy="652.94" r="4.7"/>
<circle cx="632.97" cy="653.26" r="4.7"/>
<circle cx="634.95" cy="653.6" r="4.7"/>
<circle cx="636.93" cy="653.17" r="4.7"/>
<circle cx="638.91" cy="655.65" r="4.7"/>
<circle cx="640.89" cy="655.91" r="4.7"/>
<circle cx="642.87" cy="655.84" r="4.7"/>
<circle cx="643.86" cy="654.22" r="4.7"/>
<circle cx="644.85" cy="652.61" r="4.7"/>
<circle cx="646.83" cy="652.08" r="4.7"/>
<circle cx="648.81" cy="652.38" r="4.7"/>
<circle cx="650.79" cy="653.47" r="4.7"/>
<circle cx="652.77" cy="652.84" r="4.7"/>
<circle cx="654.75" cy="653.86" r="4.7"/>
<circle cx="656.73" cy="654.42" r="4.7"/>
<circle cx="658.71" cy="653.92" r="4.7"/>
<circle cx="660.69" cy="654.96" r="4.7"/>
<circle cx="662.67" cy="653.74" r="4.7"/>
<circle cx="664.65" cy="653" r="4.7"/>
<circle cx="666.63" cy="651.97" r="4.7"/>
<circle cx="668.61" cy="652.16" r="4.7"/>
<circle cx="670.59" cy="654.59" r="4.7"/>
<circle cx="672.57" cy="653.55" r="4.7"/>
<circle cx="674.55" cy="654.59" r="4.7"/>
<circle cx="676.53" cy="654.9" r="4.7"/>
<circle cx="678.51" cy="655.99" r="4.7"/>
<circle cx="680.49" cy="654.71" r="4.7"/>
<circle cx="682.47" cy="654.7" r="4.7"/>
<circle cx="684.45" cy="654.59" r="4.7"/>
<circle cx="686.43" cy="654.4" r="4.7"/>
<circle cx="688.41" cy="655.72" r="4.7"/>
<circle cx="690.39" cy="655.78" r="4.7"/>
<circle cx="692.37" cy="654.12" r="4.7"/>
<circle cx="694.35" cy="654.21" r="4.7"/>
<circle cx="696.33" cy="654.8" r="4.7"/>
<circle cx="698.31" cy="654.99" r="4.7"/>
<circle cx="700.29" cy="655.17" r="4.7"/>
<circle cx="702.27" cy="654.33" r="4.7"/>
<circle cx="704.25" cy="653.84" r="4.7"/>
<circle cx="706.23" cy="654.6" r="4.7"/>
<circle cx="708.21" cy="654.26" r="4.7"/>
<circle cx="710.19" cy="655.64" r="4.7"/>
<circle cx="712.17" cy="654.29" r="4.7"/>
<circle cx="714.15" cy="654.3" r="4.7"/>
<circle cx="716.13" cy="655.87" r="4.7"/>
<circle cx="718.11" cy="654.91" r="4.7"/>
<circle cx="720.09" cy="656.31" r="4.7"/>
<circle cx="722.07" cy="655.41" r="4.7"/>
<circle cx="724.05" cy="656.36" r="4.7"/>
<circle cx="726.03" cy="654.3" r="4.7"/>
<circle cx="728.01" cy="655.19" r="4.7"/>
<circle cx="729.99" cy="655.93" r="4.7"/>
<circle cx="731.97" cy="653.85" r="4.7"/>
<circle cx="733.95" cy="656.17" r="4.7"/>
<circle cx="735.93" cy="653.88" r="4.7"/>
<circle cx="737.91" cy="655.45" r="4.7"/>
<circle cx="739.89" cy="655.91" r="4.7"/>
<circle cx="741.87" cy="655.34" r="4.7"/>
<circle cx="743.85" cy="653.83" r="4.7"/>
<circle cx="745.83" cy="653.48" r="4.7"/>
<circle cx="747.81" cy="654.87" r="4.7"/>
<circle cx="749.79" cy="656.25" r="4.7"/>
<circle cx="751.77" cy="654.74" r="4.7"/>
<circle cx="753.75" cy="656.66" r="4.7"/>
<circle cx="755.73" cy="654.75" r="4.7"/>
<circle cx="757.71" cy="657.1" r="4.7"/>
<circle cx="759.69" cy="654.84" r="4.7"/>
<circle cx="761.67" cy="655.43" r="4.7"/>
<circle cx="763.65" cy="656.74" r="4.7"/>
<circle cx="765.63" cy="656.13" r="4.7"/>
<circle cx="767.61" cy="656.12" r="4.7"/>
<circle cx="769.59" cy="655.74" r="4.7"/>
<circle cx="771.57" cy="655.27" r="4.7"/>
<circle cx="773.55" cy="654.92" r="4.7"/>
<circle cx="775.53" cy="653.61" r="4.7"/>
<circle cx="777.51" cy="654.61" r="4.7"/>
<circle cx="779.49" cy="654.12" r="4.7"/>
<circle cx="781.47" cy="655.97" r="4.7"/>
<circle cx="783.45" cy="655.48" r="4.7"/>
<circle cx="785.43" cy="653.42" r="4.7"/>
<circle cx="787.41" cy="652.01" r="4.7"/>
<circle cx="789.39" cy="653.63" r="4.7"/>
<circle cx="791.37" cy="652.7" r="4.7"/>
<circle cx="793.35" cy="651.48" r="4.7"/>
<circle cx="795.33" cy="650.97" r="4.7"/>
<circle cx="797.31" cy="651.46" r="4.7"/>
<circle cx="799.29" cy="650.12" r="4.7"/>
<circle cx="801.27" cy="649.73" r="4.7"/>
<circle cx="803.25" cy="649.35" r="4.7"/>
<circle cx="805.23" cy="648.95" r="4.7"/>
<circle cx="807.21" cy="648.25" r="4.7"/>
<circle cx="809.19" cy="649.94" r="4.7"/>
<circle cx="811.17" cy="649.25" r="4.7"/>
<circle cx="813.15" cy="649.63" r="4.7"/>
<circle cx="815.13" cy="648.32" r="4.7"/>
<circle cx="817.11" cy="649.37" r="4.7"/>
<circle cx="819.09" cy="649" r="4.7"/>
<circle cx="821.07" cy="649.19" r="4.7"/>
<circle cx="823.05" cy="649.8" r="4.7"/>
<circle cx="825.03" cy="651.33" r="4.7"/>
<circle cx="827.01" cy="649.78" r="4.7"/>
<circle cx="828.99" cy="649.45" r="4.7"/>
<circle cx="830.97" cy="649.7" r="4.7"/>
<circle cx="832.95" cy="648.74" r="4.7"/>
<circle cx="834.93" cy="648.9" r="4.7"/>
<circle cx="836.91" cy="651.15" r="4.7"/>
<circle cx="838.89" cy="651.56" r="4.7"/>
<circle cx="840.87" cy="652.08" r="4.7"/>
<circle cx="842.85" cy="651.59" r="4.7"/>
<circle cx="844.83" cy="652.38" r="4.7"/>
<circle cx="846.81" cy="652.6" r="4.7"/>
<circle cx="848.79" cy="651.2" r="4.7"/>
<circle cx="850.77" cy="651.84" r="4.7"/>
<circle cx="852.75" cy="651.71" r="4.7"/>
<circle cx="854.73" cy="650.62" r="4.7"/>
<circle cx="856.71" cy="650.67" r="4.7"/>
<circle cx="858.69" cy="650.61" r="4.7"/>
<circle cx="860.67" cy="651.71" r="4.7"/>
<circle cx="862.65" cy="652.02" r="4.7"/>
<circle cx="864.63" cy="650.49" r="4.7"/>
<circle cx="866.61" cy="652.37" r="4.7"/>
<circle cx="868.59" cy="651.62" r="4.7"/>
<circle cx="870.57" cy="652.62" r="4.7"/>
<circle cx="872.55" cy="654.79" r="4.7"/>
<circle cx="874.53" cy="656.26" r="4.7"/>
<circle cx="876.51" cy="654.5" r="4.7"/>
<circle cx="878.49" cy="656.44" r="4.7"/>
<circle cx="880.47" cy="657.02" r="4.7"/>
<circle cx="882.45" cy="655.66" r="4.7"/>
<circle cx="884.43" cy="656.41" r="4.7"/>
<circle cx="886.41" cy="656.52" r="4.7"/>
<circle cx="888.39" cy="654.85" r="4.7"/>
<circle cx="890.37" cy="655.37" r="4.7"/>
<circle cx="892.35" cy="654.97" r="4.7"/>
<circle cx="894.33" cy="654.08" r="4.7"/>
<circle cx="896.31" cy="654.32" r="4.7"/>
<circle cx="898.29" cy="653.94" r="4.7"/>
<circle cx="900.27" cy="654.19" r="4.7"/>
<circle cx="902.25" cy="653.4" r="4.7"/>
<circle cx="904.23" cy="652.59" r="4.7"/>
<circle cx="906.21" cy="653.09" r="4.7"/>
<circle cx="908.19" cy="653.3" r="4.7"/>
<circle cx="910.17" cy="654.68" r="4.7"/>
<circle cx="912.15" cy="655.6" r="4.7"/>
<circle cx="914.13" cy="654.02" r="4.7"/>
<circle cx="916.11" cy="656.08" r="4.7"/>
<circle cx="918.09" cy="656.35" r="4.7"/>
<circle cx="920.07" cy="655.48" r="4.7"/>
<circle cx="922.05" cy="656.12" r="4.7"/>
<circle cx="924.03" cy="655.09" r="4.7"/>
<circle cx="926.01" cy="656.16" r="4.7"/>
<circle cx="927.99" cy="653.72" r="4.7"/>
<circle cx="929.97" cy="655.82" r="4.7"/>
<circle cx="931.95" cy="654.77" r="4.7"/>
<circle cx="933.93" cy="653.71" r="4.7"/>
<circle cx="935.91" cy="652.14" r="4.7"/>
<circle cx="937.89" cy="653.9" r="4.7"/>
<circle cx="939.87" cy="654.09" r="4.7"/>
<circle cx="941.85" cy="651.86" r="4.7"/>
<circle cx="943.83" cy="653.56" r="4.7"/>
<circle cx="945.81" cy="653.25" r="4.7"/>
<circle cx="947.79" cy="652.24" r="4.7"/>
<circle cx="949.77" cy="651.86" r="4.7"/>
<circle cx="951.75" cy="650.76" r="4.7"/>
<circle cx="953.73" cy="651.89" r="4.7"/>
<circle cx="955.71" cy="651.81" r="4.7"/>
<circle cx="957.69" cy="649.95" r="4.7"/>
<circle cx="959.67" cy="650.92" r="4.7"/>
<circle cx="961.65" cy="650.05" r="4.7"/>
<circle cx="963.63" cy="649.67" r="4.7"/>
<circle cx="965.61" cy="650.48" r="4.7"/>
<circle cx="967.59" cy="650.29" r="4.7"/>
<circle cx="969.57" cy="652.66" r="4.7"/>
<circle cx="971.55" cy="652.8" r="4.7"/>
<circle cx="973.53" cy="650.45" r="4.7"/>
<circle cx="975.51" cy="651.8" r="4.7"/>
<circle cx="977.49" cy="651.26" r="4.7"/>
<circle cx="979.47" cy="650.45" r="4.7"/>
<circle cx="981.45" cy="651.24" r="4.7"/>
<circle cx="983.43" cy="651.59" r="4.7"/>
<circle cx="985.41" cy="653.47" r="4.7"/>
<circle cx="987.39" cy="651.86" r="4.7"/>
<circle cx="989.37" cy="652.84" r="4.7"/>
<circle cx="991.35" cy="653.97" r="4.7"/>
<circle cx="993.33" cy="653.23" r="4.7"/>
<circle cx="995.31" cy="655.35" r="4.7"/>
<circle cx="997.29" cy="655.43" r="4.7"/>
<circle cx="999.27" cy="656.18" r="4.7"/>
<circle cx="1001.25" cy="654.54" r="4.7"/>
<circle cx="1003.23" cy="654.87" r="4.7"/>
<circle cx="1005.21" cy="655.39" r="4.7"/>
<circle cx="1007.19" cy="654.36" r="4.7"/>
<circle cx="1009.17" cy="654.96" r="4.7"/>
<circle cx="1011.15" cy="654.06" r="4.7"/>
<circle cx="1013.13" cy="655.37" r="4.7"/>
</g>
<g class="b">
<circle cx="68.67" cy="686.36" r="4.7"/>
<circle cx="70.65" cy="686.7" r="4.7"/>
<circle cx="71.64" cy="685.28" r="4.7"/>
<circle cx="72.63" cy="683.86" r="4.7"/>
<circle cx="74.61" cy="683.71" r="4.7"/>
<circle cx="76.59" cy="685.42" r="4.7"/>
<circle cx="78.57" cy="684.07" r="4.7"/>
<circle cx="80.55" cy="682.09" r="4.7"/>
<circle cx="81.54" cy="680.2" r="4.7"/>
<circle cx="82.53" cy="678.31" r="4.7"/>
<circle cx="84.51" cy="676.84" r="4.7"/>
<circle cx="85.5" cy="675.36" r="4.7"/>
<circle cx="86.49" cy="673.87" r="4.7"/>
<circle cx="87.48" cy="672.34" r="4.7"/>
<circle cx="88.47" cy="670.81" r="4.7"/>
<circle cx="89.46" cy="669.01" r="4.7"/>
<circle cx="90.45" cy="667.21" r="4.7"/>
<circle cx="92.43" cy="666.36" r="4.7"/>
<circle cx="94.41" cy="665.79" r="4.7"/>
<circle cx="95.4" cy="667.12" r="4.7"/>
<circle cx="96.39" cy="668.46" r="4.7"/>
<circle cx="98.37" cy="670.84" r="4.7"/>
<circle cx="100.35" cy="670.74" r="4.7"/>
<circle cx="102.33" cy="669.35" r="4.7"/>
<circle cx="104.31" cy="669.06" r="4.7"/>
<circle cx="106.29" cy="669.17" r="4.7"/>
<circle cx="108.27" cy="669.72" r="4.7"/>
<circle cx="110.25" cy="671.07" r="4.7"/>
<circle cx="111.24" cy="672.54" r="4.7"/>
<circle cx="112.23" cy="674" r="4.7"/>
<circle cx="114.21" cy="674.81" r="4.7"/>
<circle cx="116.19" cy="676.8" r="4.7"/>
<circle cx="117.18" cy="679.47" r="4.7"/>
<circle cx="118.17" cy="682.14" r="4.7"/>
<circle cx="120.15" cy="684.3" r="4.7"/>
<circle cx="121.14" cy="686.1" r="4.7"/>
<circle cx="122.13" cy="687.89" r="4.7"/>
<circle cx="124.11" cy="689.89" r="4.7"/>
<circle cx="126.09" cy="687.89" r="4.7"/>
<circle cx="128.07" cy="687.74" r="4.7"/>
<circle cx="130.05" cy="688.01" r="4.7"/>
<circle cx="131.04" cy="689.62" r="4.7"/>
<circle cx="132.03" cy="691.23" r="4.7"/>
<circle cx="134.01" cy="693.51" r="4.7"/>
<circle cx="135" cy="691.86" r="4.7"/>
<circle cx="135.99" cy="690.22" r="4.7"/>
<circle cx="136.98" cy="688.27" r="4.7"/>
<circle cx="137.97" cy="686.32" r="4.7"/>
<circle cx="139.95" cy="686.27" r="4.7"/>
<circle cx="140.94" cy="684.78" r="4.7"/>
<circle cx="141.93" cy="683.3" r="4.7"/>
<circle cx="143.91" cy="681.16" r="4.7"/>
<circle cx="145.89" cy="680.31" r="4.7"/>
<circle cx="147.87" cy="678.33" r="4.7"/>
<circle cx="149.85" cy="676.95" r="4.7"/>
<circle cx="150.84" cy="675.42" r="4.7"/>
<circle cx="151.83" cy="673.9" r="4.7"/>
<circle cx="153.81" cy="674.04" r="4.7"/>
<circle cx="154.8" cy="672.2" r="4.7"/>
<circle cx="155.79" cy="670.36" r="4.7"/>
<circle cx="156.45" cy="668.2" r="4.7"/>
<circle cx="157.11" cy="666.03" r="4.7"/>
<circle cx="157.77" cy="663.87" r="4.7"/>
<circle cx="158.76" cy="665.14" r="4.7"/>
<circle cx="159.75" cy="666.41" r="4.7"/>
<circle cx="160.74" cy="667.67" r="4.7"/>
<circle cx="161.73" cy="668.93" r="4.7"/>
<circle cx="162.72" cy="671.5" r="4.7"/>
<circle cx="163.71" cy="674.07" r="4.7"/>
<circle cx="164.37" cy="677.01" r="4.7"/>
<circle cx="165.03" cy="679.95" r="4.7"/>
<circle cx="165.69" cy="682.89" r="4.7"/>
<circle cx="166.68" cy="684.66" r="4.7"/>
<circle cx="167.67" cy="686.43" r="4.7"/>
<circle cx="169.65" cy="686.49" r="4.7"/>
<circle cx="170.64" cy="683.74" r="4.7"/>
<circle cx="171.63" cy="681" r="4.7"/>
<circle cx="173.61" cy="680.54" r="4.7"/>
<circle cx="174.6" cy="679.06" r="4.7"/>
<circle cx="175.59" cy="677.58" r="4.7"/>
<circle cx="177.57" cy="678.95" r="4.7"/>
<circle cx="179.55" cy="679.21" r="4.7"/>
<circle cx="181.53" cy="677.82" r="4.7"/>
<circle cx="183.51" cy="676.9" r="4.7"/>
<circle cx="185.49" cy="675.53" r="4.7"/>
<circle cx="187.47" cy="673.32" r="4.7"/>
<circle cx="189.45" cy="672.47" r="4.7"/>
<circle cx="190.44" cy="673.97" r="4.7"/>
<circle cx="191.43" cy="675.48" r="4.7"/>
<circle cx="192.42" cy="678.09" r="4.7"/>
<circle cx="193.41" cy="680.7" r="4.7"/>
<circle cx="194.07" cy="683.13" r="4.7"/>
<circle cx="194.73" cy="685.56" r="4.7"/>
<circle cx="195.39" cy="687.99" r="4.7"/>
<circle cx="197.37" cy="687.91" r="4.7"/>
<circle cx="198.36" cy="689.2" r="4.7"/>
<circle cx="199.35" cy="690.5" r="4.7"/>
<circle cx="201.33" cy="688.12" r="4.7"/>
<circle cx="203.31" cy="689.86" r="4.7"/>
<circle cx="204.3" cy="688.4" r="4.7"/>
<circle cx="205.29" cy="686.93" r="4.7"/>
<circle cx="207.27" cy="688.51" r="4.7"/>
<circle cx="209.25" cy="687.17" r="4.7"/>
<circle cx="211.23" cy="687.43" r="4.7"/>
<circle cx="213.21" cy="687.04" r="4.7"/>
<circle cx="215.19" cy="685.04" r="4.7"/>
<circle cx="216.18" cy="683.64" r="4.7"/>
<circle cx="217.17" cy="682.24" r="4.7"/>
<circle cx="218.16" cy="679.52" r="4.7"/>
<circle cx="219.15" cy="676.79" r="4.7"/>
<circle cx="220.14" cy="674.38" r="4.7"/>
<circle cx="221.13" cy="671.97" r="4.7"/>
<circle cx="222.12" cy="673.63" r="4.7"/>
<circle cx="223.11" cy="675.3" r="4.7"/>
<circle cx="223.77" cy="677.57" r="4.7"/>
<circle cx="224.43" cy="679.83" r="4.7"/>
<circle cx="225.09" cy="682.1" r="4.7"/>
<circle cx="226.08" cy="683.57" r="4.7"/>
<circle cx="227.07" cy="685.05" r="4.7"/>
<circle cx="229.05" cy="686.59" r="4.7"/>
<circle cx="230.04" cy="688.38" r="4.7"/>
<circle cx="231.03" cy="690.17" r="4.7"/>
<circle cx="233.01" cy="690.72" r="4.7"/>
<circle cx="234.99" cy="691.06" r="4.7"/>
<circle cx="235.98" cy="689.45" r="4.7"/>
<circle cx="236.97" cy="687.84" r="4.7"/>
<circle cx="238.95" cy="688.28" r="4.7"/>
<circle cx="239.94" cy="685.63" r="4.7"/>
<circle cx="240.93" cy="682.98" r="4.7"/>
<circle cx="242.91" cy="684.68" r="4.7"/>
<circle cx="243.9" cy="685.97" r="4.7"/>
<circle cx="244.89" cy="687.27" r="4.7"/>
<circle cx="245.88" cy="688.63" r="4.7"/>
<circle cx="246.87" cy="689.99" r="4.7"/>
<circle cx="247.86" cy="691.26" r="4.7"/>
<circle cx="248.85" cy="692.52" r="4.7"/>
<circle cx="249.84" cy="691.24" r="4.7"/>
<circle cx="250.83" cy="689.95" r="4.7"/>
<circle cx="252.81" cy="691.28" r="4.7"/>
<circle cx="254.79" cy="691.55" r="4.7"/>
<circle cx="255.78" cy="689.99" r="4.7"/>
<circle cx="256.77" cy="688.43" r="4.7"/>
<circle cx="258.75" cy="687.38" r="4.7"/>
<circle cx="260.73" cy="689.37" r="4.7"/>
<circle cx="262.71" cy="687.42" r="4.7"/>
<circle cx="264.69" cy="688.18" r="4.7"/>
<circle cx="265.68" cy="686.8" r="4.7"/>
<circle cx="266.67" cy="685.42" r="4.7"/>
<circle cx="268.65" cy="686.6" r="4.7"/>
<circle cx="269.64" cy="688.4" r="4.7"/>
<circle cx="270.63" cy="690.2" r="4.7"/>
<circle cx="271.62" cy="692.88" r="4.7"/>
<circle cx="272.61" cy="695.55" r="4.7"/>
<circle cx="274.59" cy="695.16" r="4.7"/>
<circle cx="275.58" cy="697.6" r="4.7"/>
<circle cx="276.57" cy="700.03" r="4.7"/>
<circle cx="278.55" cy="697.54" r="4.7"/>
<circle cx="279.54" cy="699.21" r="4.7"/>
<circle cx="280.53" cy="700.87" r="4.7"/>
<circle cx="282.51" cy="699.11" r="4.7"/>
<circle cx="284.49" cy="699.49" r="4.7"/>
<circle cx="286.47" cy="701.01" r="4.7"/>
<circle cx="287.46" cy="699.58" r="4.7"/>
<circle cx="288.45" cy="698.15" r="4.7"/>
<circle cx="290.43" cy="697.62" r="4.7"/>
<circle cx="292.41" cy="698.66" r="4.7"/>
<circle cx="294.39" cy="696.76" r="4.7"/>
<circle cx="296.37" cy="694.42" r="4.7"/>
<circle cx="298.35" cy="696.36" r="4.7"/>
<circle cx="299.34" cy="694.12" r="4.7"/>
<circle cx="300.33" cy="691.88" r="4.7"/>
<circle cx="302.31" cy="691.6" r="4.7"/>
<circle cx="303.3" cy="692.95" r="4.7"/>
<circle cx="304.29" cy="694.29" r="4.7"/>
<circle cx="306.27" cy="696.59" r="4.7"/>
<circle cx="308.25" cy="697.05" r="4.7"/>
<circle cx="310.23" cy="694.79" r="4.7"/>
<circle cx="312.21" cy="695.04" r="4.7"/>
<circle cx="314.19" cy="693.25" r="4.7"/>
<circle cx="316.17" cy="694.07" r="4.7"/>
<circle cx="318.15" cy="694.62" r="4.7"/>
<circle cx="320.13" cy="693.77" r="4.7"/>
<circle cx="322.11" cy="693.22" r="4.7"/>
<circle cx="324.09" cy="692.39" r="4.7"/>
<circle cx="325.08" cy="693.72" r="4.7"/>
<circle cx="326.07" cy="695.04" r="4.7"/>
<circle cx="328.05" cy="696.44" r="4.7"/>
<circle cx="330.03" cy="696.2" r="4.7"/>
<circle cx="332.01" cy="695.9" r="4.7"/>
<circle cx="333.99" cy="698.15" r="4.7"/>
<circle cx="335.97" cy="697.9" r="4.7"/>
<circle cx="337.95" cy="698.12" r="4.7"/>
<circle cx="339.93" cy="700.26" r="4.7"/>
<circle cx="341.91" cy="702.46" r="4.7"/>
<circle cx="342.9" cy="700.48" r="4.7"/>
<circle cx="343.89" cy="698.49" r="4.7"/>
<circle cx="345.87" cy="696.92" r="4.7"/>
<circle cx="346.86" cy="694.78" r="4.7"/>
<circle cx="347.85" cy="692.64" r="4.7"/>
<circle cx="348.84" cy="689.89" r="4.7"/>
<circle cx="349.83" cy="687.14" r="4.7"/>
<circle cx="350.82" cy="684.32" r="4.7"/>
<circle cx="351.81" cy="681.51" r="4.7"/>
<circle cx="352.8" cy="683.05" r="4.7"/>
<circle cx="353.79" cy="684.59" r="4.7"/>
<circle cx="355.77" cy="682.23" r="4.7"/>
<circle cx="356.76" cy="684.51" r="4.7"/>
<circle cx="357.75" cy="686.8" r="4.7"/>
<circle cx="358.74" cy="688.29" r="4.7"/>
<circle cx="359.73" cy="689.79" r="4.7"/>
<circle cx="361.71" cy="692.24" r="4.7"/>
<circle cx="362.7" cy="694.53" r="4.7"/>
<circle cx="363.69" cy="696.82" r="4.7"/>
<circle cx="365.67" cy="697.57" r="4.7"/>
<circle cx="367.65" cy="698.5" r="4.7"/>
<circle cx="369.63" cy="699.66" r="4.7"/>
<circle cx="371.61" cy="700.22" r="4.7"/>
<circle cx="373.59" cy="699.99" r="4.7"/>
<circle cx="375.57" cy="701.84" r="4.7"/>
<circle cx="377.55" cy="701.21" r="4.7"/>
<circle cx="379.53" cy="702.76" r="4.7"/>
<circle cx="381.51" cy="702.42" r="4.7"/>
<circle cx="383.49" cy="703.14" r="4.7"/>
<circle cx="385.47" cy="703.2" r="4.7"/>
<circle cx="387.45" cy="703.2" r="4.7"/>
<circle cx="389.43" cy="703.2" r="4.7"/>
<circle cx="391.41" cy="703.2" r="4.7"/>
<circle cx="393.39" cy="703.2" r="4.7"/>
<circle cx="395.37" cy="703.2" r="4.7"/>
<circle cx="397.35" cy="703.2" r="4.7"/>
<circle cx="399.33" cy="703.2" r="4.7"/>
<circle cx="401.31" cy="703.2" r="4.7"/>
<circle cx="403.29" cy="703.2" r="4.7"/>
<circle cx="405.27" cy="703.2" r="4.7"/>
<circle cx="407.25" cy="703.2" r="4.7"/>
<circle cx="409.23" cy="703.2" r="4.7"/>
<circle cx="411.21" cy="703.2" r="4.7"/>
<circle cx="413.19" cy="703.2" r="4.7"/>
<circle cx="415.17" cy="703.2" r="4.7"/>
<circle cx="417.15" cy="703.2" r="4.7"/>
<circle cx="419.13" cy="703.2" r="4.7"/>
<circle cx="421.11" cy="703.2" r="4.7"/>
<circle cx="423.09" cy="703.2" r="4.7"/>
<circle cx="425.07" cy="703.2" r="4.7"/>
<circle cx="427.05" cy="703.2" r="4.7"/>
<circle cx="429.03" cy="703.2" r="4.7"/>
<circle cx="431.01" cy="703.2" r="4.7"/>
<circle cx="432.99" cy="703.2" r="4.7"/>
<circle cx="434.97" cy="703.2" r="4.7"/>
<circle cx="436.95" cy="703.2" r="4.7"/>
<circle cx="438.93" cy="703.2" r="4.7"/>
<circle cx="440.91" cy="703.2" r="4.7"/>
<circle cx="442.89" cy="703.2" r="4.7"/>
<circle cx="444.87" cy="703.2" r="4.7"/>
<circle cx="446.85" cy="703.2" r="4.7"/>
<circle cx="448.83" cy="703.2" r="4.7"/>
<circle cx="450.81" cy="703.2" r="4.7"/>
<circle cx="451.8" cy="701.62" r="4.7"/>
<circle cx="452.79" cy="700.05" r="4.7"/>
<circle cx="454.77" cy="699.14" r="4.7"/>
<circle cx="456.75" cy="701.36" r="4.7"/>
<circle cx="458.73" cy="699.79" r="4.7"/>
<circle cx="460.71" cy="700.34" r="4.7"/>
<circle cx="462.69" cy="702.28" r="4.7"/>
<circle cx="464.67" cy="703.2" r="4.7"/>
<circle cx="466.65" cy="703.2" r="4.7"/>
<circle cx="468.63" cy="703.2" r="4.7"/>
<circle cx="470.61" cy="703.2" r="4.7"/>
<circle cx="472.59" cy="703.2" r="4.7"/>
<circle cx="474.57" cy="703.2" r="4.7"/>
<circle cx="476.55" cy="703.2" r="4.7"/>
<circle cx="478.53" cy="703.2" r="4.7"/>
<circle cx="480.51" cy="703.2" r="4.7"/>
<circle cx="482.49" cy="703.2" r="4.7"/>
<circle cx="484.47" cy="703.2" r="4.7"/>
<circle cx="486.45" cy="703.2" r="4.7"/>
<circle cx="488.43" cy="703.2" r="4.7"/>
<circle cx="490.41" cy="703.2" r="4.7"/>
<circle cx="492.39" cy="703.2" r="4.7"/>
<circle cx="494.37" cy="703.2" r="4.7"/>
<circle cx="495.36" cy="701.11" r="4.7"/>
<circle cx="496.35" cy="699.02" r="4.7"/>
<circle cx="497.34" cy="697.16" r="4.7"/>
<circle cx="498.33" cy="695.31" r="4.7"/>
<circle cx="499.32" cy="693.17" r="4.7"/>
<circle cx="500.31" cy="691.04" r="4.7"/>
<circle cx="502.29" cy="689.38" r="4.7"/>
<circle cx="503.28" cy="687.04" r="4.7"/>
<circle cx="504.27" cy="684.7" r="4.7"/>
<circle cx="506.25" cy="685.63" r="4.7"/>
<circle cx="508.23" cy="683.43" r="4.7"/>
<circle cx="510.21" cy="684.62" r="4.7"/>
<circle cx="512.19" cy="684.29" r="4.7"/>
<circle cx="514.17" cy="685.64" r="4.7"/>
<circle cx="516.15" cy="687.81" r="4.7"/>
<circle cx="518.13" cy="689.16" r="4.7"/>
<circle cx="519.12" cy="690.82" r="4.7"/>
<circle cx="520.11" cy="692.49" r="4.7"/>
<circle cx="521.1" cy="695" r="4.7"/>
<circle cx="522.09" cy="697.52" r="4.7"/>
<circle cx="524.07" cy="698.11" r="4.7"/>
<circle cx="525.06" cy="699.54" r="4.7"/>
<circle cx="526.05" cy="700.97" r="4.7"/>
<circle cx="528.03" cy="699.87" r="4.7"/>
<circle cx="530.01" cy="700.87" r="4.7"/>
<circle cx="531.99" cy="700.41" r="4.7"/>
<circle cx="533.97" cy="698.5" r="4.7"/>
<circle cx="534.96" cy="699.89" r="4.7"/>
<circle cx="535.95" cy="701.28" r="4.7"/>
<circle cx="537.93" cy="701.63" r="4.7"/>
<circle cx="539.91" cy="701.1" r="4.7"/>
<circle cx="541.89" cy="699.96" r="4.7"/>
<circle cx="543.87" cy="698.81" r="4.7"/>
<circle cx="545.85" cy="696.69" r="4.7"/>
<circle cx="547.83" cy="695.44" r="4.7"/>
<circle cx="548.82" cy="692.93" r="4.7"/>
<circle cx="549.81" cy="690.41" r="4.7"/>
<circle cx="551.79" cy="688.02" r="4.7"/>
<circle cx="552.78" cy="685.69" r="4.7"/>
<circle cx="553.77" cy="683.36" r="4.7"/>
<circle cx="555.75" cy="683.09" r="4.7"/>
<circle cx="556.74" cy="685.72" r="4.7"/>
<circle cx="557.73" cy="688.36" r="4.7"/>
<circle cx="558.72" cy="690.59" r="4.7"/>
<circle cx="559.71" cy="692.82" r="4.7"/>
<circle cx="561.69" cy="694.45" r="4.7"/>
<circle cx="562.68" cy="693.18" r="4.7"/>
<circle cx="563.67" cy="691.9" r="4.7"/>
<circle cx="565.65" cy="689.93" r="4.7"/>
<circle cx="567.63" cy="690.86" r="4.7"/>
<circle cx="568.62" cy="692.16" r="4.7"/>
<circle cx="569.61" cy="693.46" r="4.7"/>
<circle cx="571.59" cy="695.54" r="4.7"/>
<circle cx="573.57" cy="697.44" r="4.7"/>
<circle cx="575.55" cy="699.07" r="4.7"/>
<circle cx="577.53" cy="698.37" r="4.7"/>
<circle cx="579.51" cy="699.7" r="4.7"/>
<circle cx="581.49" cy="697.6" r="4.7"/>
<circle cx="583.47" cy="697.88" r="4.7"/>
<circle cx="585.45" cy="699.39" r="4.7"/>
<circle cx="586.44" cy="697.47" r="4.7"/>
<circle cx="587.43" cy="695.54" r="4.7"/>
<circle cx="589.41" cy="695.16" r="4.7"/>
<circle cx="590.4" cy="693.84" r="4.7"/>
<circle cx="591.39" cy="692.51" r="4.7"/>
<circle cx="593.37" cy="691.2" r="4.7"/>
<circle cx="595.35" cy="692.73" r="4.7"/>
<circle cx="597.33" cy="691.68" r="4.7"/>
<circle cx="598.32" cy="690.37" r="4.7"/>
<circle cx="599.31" cy="689.06" r="4.7"/>
<circle cx="600.3" cy="687.65" r="4.7"/>
<circle cx="601.29" cy="686.23" r="4.7"/>
<circle cx="603.27" cy="686.41" r="4.7"/>
<circle cx="605.25" cy="685.75" r="4.7"/>
<circle cx="607.23" cy="686.9" r="4.7"/>
<circle cx="608.22" cy="688.53" r="4.7"/>
<circle cx="609.21" cy="690.16" r="4.7"/>
<circle cx="610.2" cy="691.5" r="4.7"/>
<circle cx="611.19" cy="692.83" r="4.7"/>
<circle cx="612.18" cy="694.47" r="4.7"/>
<circle cx="613.17" cy="696.11" r="4.7"/>
<circle cx="615.15" cy="696.32" r="4.7"/>
<circle cx="617.13" cy="697.27" r="4.7"/>
<circle cx="619.11" cy="698.15" r="4.7"/>
<circle cx="621.09" cy="696.14" r="4.7"/>
<circle cx="622.08" cy="693.76" r="4.7"/>
<circle cx="623.07" cy="691.39" r="4.7"/>
<circle cx="625.05" cy="690.53" r="4.7"/>
<circle cx="627.03" cy="689.05" r="4.7"/>
<circle cx="628.02" cy="687.23" r="4.7"/>
<circle cx="629.01" cy="685.42" r="4.7"/>
<circle cx="630" cy="683.22" r="4.7"/>
<circle cx="630.99" cy="681.03" r="4.7"/>
<circle cx="631.65" cy="678.44" r="4.7"/>
<circle cx="632.31" cy="675.86" r="4.7"/>
<circle cx="632.97" cy="673.27" r="4.7"/>
<circle cx="633.96" cy="671.97" r="4.7"/>
<circle cx="634.95" cy="670.68" r="4.7"/>
<circle cx="635.94" cy="668.84" r="4.7"/>
<circle cx="636.93" cy="667.01" r="4.7"/>
<circle cx="637.92" cy="669.56" r="4.7"/>
<circle cx="638.91" cy="672.1" r="4.7"/>
<circle cx="640.89" cy="674.31" r="4.7"/>
<circle cx="641.88" cy="676.05" r="4.7"/>
<circle cx="642.87" cy="677.8" r="4.7"/>
<circle cx="643.86" cy="679.34" r="4.7"/>
<circle cx="644.85" cy="680.87" r="4.7"/>
<circle cx="645.84" cy="682.4" r="4.7"/>
<circle cx="646.83" cy="683.92" r="4.7"/>
<circle cx="648.81" cy="684.42" r="4.7"/>
<circle cx="650.79" cy="686.39" r="4.7"/>
<circle cx="651.78" cy="684.93" r="4.7"/>
<circle cx="652.77" cy="683.47" r="4.7"/>
<circle cx="653.43" cy="681.34" r="4.7"/>
<circle cx="654.09" cy="679.2" r="4.7"/>
<circle cx="654.75" cy="677.07" r="4.7"/>
<circle cx="656.73" cy="674.63" r="4.7"/>
<circle cx="658.71" cy="673.73" r="4.7"/>
<circle cx="660.69" cy="675.43" r="4.7"/>
<circle cx="661.68" cy="677.03" r="4.7"/>
<circle cx="662.67" cy="678.64" r="4.7"/>
<circle cx="663.66" cy="680.48" r="4.7"/>
<circle cx="664.65" cy="682.32" r="4.7"/>
<circle cx="666.63" cy="684.36" r="4.7"/>
<circle cx="668.61" cy="682.3" r="4.7"/>
<circle cx="670.59" cy="681.69" r="4.7"/>
<circle cx="671.58" cy="679.45" r="4.7"/>
<circle cx="672.57" cy="677.21" r="4.7"/>
<circle cx="674.55" cy="676.72" r="4.7"/>
<circle cx="676.53" cy="675.6" r="4.7"/>
<circle cx="678.51" cy="675.8" r="4.7"/>
<circle cx="680.49" cy="675.97" r="4.7"/>
<circle cx="682.47" cy="673.46" r="4.7"/>
<circle cx="684.45" cy="673.9" r="4.7"/>
<circle cx="686.43" cy="672.12" r="4.7"/>
<circle cx="688.41" cy="671.73" r="4.7"/>
<circle cx="690.39" cy="669.48" r="4.7"/>
<circle cx="691.38" cy="667.18" r="4.7"/>
<circle cx="692.37" cy="664.88" r="4.7"/>
<circle cx="694.35" cy="663.34" r="4.7"/>
<circle cx="695.34" cy="665.07" r="4.7"/>
<circle cx="696.33" cy="666.79" r="4.7"/>
<circle cx="697.32" cy="668.69" r="4.7"/>
<circle cx="698.31" cy="670.58" r="4.7"/>
<circle cx="699.3" cy="672.62" r="4.7"/>
<circle cx="700.29" cy="674.66" r="4.7"/>
<circle cx="702.27" cy="676.04" r="4.7"/>
<circle cx="704.25" cy="675.89" r="4.7"/>
<circle cx="705.24" cy="674.08" r="4.7"/>
<circle cx="706.23" cy="672.28" r="4.7"/>
<circle cx="708.21" cy="674.17" r="4.7"/>
<circle cx="710.19" cy="671.92" r="4.7"/>
<circle cx="712.17" cy="671.86" r="4.7"/>
<circle cx="713.16" cy="673.29" r="4.7"/>
<circle cx="714.15" cy="674.72" r="4.7"/>
<circle cx="716.13" cy="676.42" r="4.7"/>
<circle cx="718.11" cy="674.59" r="4.7"/>
<circle cx="719.1" cy="676.12" r="4.7"/>
<circle cx="720.09" cy="677.66" r="4.7"/>
<circle cx="722.07" cy="677" r="4.7"/>
<circle cx="723.06" cy="674.33" r="4.7"/>
<circle cx="724.05" cy="671.66" r="4.7"/>
<circle cx="726.03" cy="670" r="4.7"/>
<circle cx="727.02" cy="667.74" r="4.7"/>
<circle cx="728.01" cy="665.48" r="4.7"/>
<circle cx="729.99" cy="665.39" r="4.7"/>
<circle cx="730.98" cy="668.22" r="4.7"/>
<circle cx="731.97" cy="671.06" r="4.7"/>
<circle cx="733.95" cy="671.9" r="4.7"/>
<circle cx="734.94" cy="674.16" r="4.7"/>
<circle cx="735.93" cy="676.42" r="4.7"/>
<circle cx="737.91" cy="678.6" r="4.7"/>
<circle cx="739.89" cy="677.91" r="4.7"/>
<circle cx="741.87" cy="678.96" r="4.7"/>
<circle cx="743.85" cy="678.28" r="4.7"/>
<circle cx="744.51" cy="675.66" r="4.7"/>
<circle cx="745.17" cy="673.04" r="4.7"/>
<circle cx="745.83" cy="670.41" r="4.7"/>
<circle cx="747.81" cy="668.41" r="4.7"/>
<circle cx="749.79" cy="666.58" r="4.7"/>
<circle cx="751.77" cy="667.71" r="4.7"/>
<circle cx="752.76" cy="669.15" r="4.7"/>
<circle cx="753.75" cy="670.59" r="4.7"/>
<circle cx="755.73" cy="672.45" r="4.7"/>
<circle cx="757.71" cy="672.4" r="4.7"/>
<circle cx="759.69" cy="674.19" r="4.7"/>
<circle cx="761.67" cy="676.19" r="4.7"/>
<circle cx="762.66" cy="678.01" r="4.7"/>
<circle cx="763.65" cy="679.84" r="4.7"/>
<circle cx="764.64" cy="678.25" r="4.7"/>
<circle cx="765.63" cy="676.66" r="4.7"/>
<circle cx="767.61" cy="675.28" r="4.7"/>
<circle cx="768.6" cy="676.62" r="4.7"/>
<circle cx="769.59" cy="677.95" r="4.7"/>
<circle cx="771.57" cy="678.05" r="4.7"/>
<circle cx="773.55" cy="680.05" r="4.7"/>
<circle cx="775.53" cy="682.39" r="4.7"/>
<circle cx="776.52" cy="680.85" r="4.7"/>
<circle cx="777.51" cy="679.31" r="4.7"/>
<circle cx="779.49" cy="679.73" r="4.7"/>
<circle cx="780.48" cy="678.23" r="4.7"/>
<circle cx="781.47" cy="676.74" r="4.7"/>
<circle cx="782.46" cy="675.38" r="4.7"/>
<circle cx="783.45" cy="674.02" r="4.7"/>
<circle cx="784.44" cy="676.49" r="4.7"/>
<circle cx="785.43" cy="678.95" r="4.7"/>
<circle cx="786.42" cy="681.41" r="4.7"/>
<circle cx="787.41" cy="683.86" r="4.7"/>
<circle cx="788.07" cy="686.26" r="4.7"/>
<circle cx="788.73" cy="688.66" r="4.7"/>
<circle cx="789.39" cy="691.06" r="4.7"/>
<circle cx="791.37" cy="692.06" r="4.7"/>
<circle cx="792.36" cy="693.63" r="4.7"/>
<circle cx="793.35" cy="695.19" r="4.7"/>
<circle cx="795.33" cy="696.97" r="4.7"/>
<circle cx="797.31" cy="698.17" r="4.7"/>
<circle cx="799.29" cy="698.35" r="4.7"/>
<circle cx="801.27" cy="698.12" r="4.7"/>
<circle cx="803.25" cy="700.56" r="4.7"/>
<circle cx="805.23" cy="702.2" r="4.7"/>
<circle cx="807.21" cy="700.2" r="4.7"/>
<circle cx="809.19" cy="700.99" r="4.7"/>
<circle cx="811.17" cy="699.84" r="4.7"/>
<circle cx="813.15" cy="699.44" r="4.7"/>
<circle cx="815.13" cy="700.36" r="4.7"/>
<circle cx="816.12" cy="699.04" r="4.7"/>
<circle cx="817.11" cy="697.72" r="4.7"/>
<circle cx="819.09" cy="698.55" r="4.7"/>
<circle cx="821.07" cy="698.27" r="4.7"/>
<circle cx="823.05" cy="698.79" r="4.7"/>
<circle cx="825.03" cy="700.35" r="4.7"/>
<circle cx="826.02" cy="698.9" r="4.7"/>
<circle cx="827.01" cy="697.44" r="4.7"/>
<circle cx="828" cy="698.83" r="4.7"/>
<circle cx="828.99" cy="700.23" r="4.7"/>
<circle cx="830.97" cy="697.73" r="4.7"/>
<circle cx="832.95" cy="697.77" r="4.7"/>
<circle cx="834.93" cy="697.12" r="4.7"/>
<circle cx="836.91" cy="695.71" r="4.7"/>
<circle cx="838.89" cy="694.07" r="4.7"/>
<circle cx="840.87" cy="694.97" r="4.7"/>
<circle cx="841.86" cy="693.28" r="4.7"/>
<circle cx="842.85" cy="691.58" r="4.7"/>
<circle cx="844.83" cy="693.35" r="4.7"/>
<circle cx="846.81" cy="692.91" r="4.7"/>
<circle cx="848.79" cy="693.83" r="4.7"/>
<circle cx="850.77" cy="695.41" r="4.7"/>
<circle cx="852.75" cy="695.98" r="4.7"/>
<circle cx="854.73" cy="696.79" r="4.7"/>
<circle cx="856.71" cy="697.06" r="4.7"/>
<circle cx="858.69" cy="698.21" r="4.7"/>
<circle cx="860.67" cy="698.79" r="4.7"/>
<circle cx="862.65" cy="697.33" r="4.7"/>
<circle cx="864.63" cy="695.11" r="4.7"/>
<circle cx="866.61" cy="692.94" r="4.7"/>
<circle cx="867.27" cy="690.39" r="4.7"/>
<circle cx="867.93" cy="687.83" r="4.7"/>
<circle cx="868.59" cy="685.28" r="4.7"/>
<circle cx="870.57" cy="683.2" r="4.7"/>
<circle cx="871.56" cy="681.17" r="4.7"/>
<circle cx="872.55" cy="679.14" r="4.7"/>
<circle cx="874.53" cy="676.86" r="4.7"/>
<circle cx="876.51" cy="675.12" r="4.7"/>
<circle cx="878.49" cy="673.27" r="4.7"/>
<circle cx="880.47" cy="673.65" r="4.7"/>
<circle cx="882.45" cy="671.61" r="4.7"/>
<circle cx="884.43" cy="670.14" r="4.7"/>
<circle cx="885.42" cy="668.64" r="4.7"/>
<circle cx="886.41" cy="667.13" r="4.7"/>
<circle cx="888.39" cy="666.05" r="4.7"/>
<circle cx="889.38" cy="664.25" r="4.7"/>
<circle cx="890.37" cy="662.44" r="4.7"/>
<circle cx="891.36" cy="660.02" r="4.7"/>
<circle cx="892.35" cy="657.61" r="4.7"/>
<circle cx="894.33" cy="656.94" r="4.7"/>
<circle cx="896.31" cy="656.59" r="4.7"/>
<circle cx="897.3" cy="655.16" r="4.7"/>
<circle cx="898.29" cy="653.73" r="4.7"/>
<circle cx="900.27" cy="653.79" r="4.7"/>
<circle cx="902.25" cy="655.16" r="4.7"/>
<circle cx="904.23" cy="656.11" r="4.7"/>
<circle cx="905.22" cy="657.78" r="4.7"/>
<circle cx="906.21" cy="659.45" r="4.7"/>
<circle cx="908.19" cy="659.94" r="4.7"/>
<circle cx="910.17" cy="661.46" r="4.7"/>
<circle cx="911.16" cy="662.93" r="4.7"/>
<circle cx="912.15" cy="664.41" r="4.7"/>
<circle cx="914.13" cy="663.7" r="4.7"/>
<circle cx="915.12" cy="665.4" r="4.7"/>
<circle cx="916.11" cy="667.1" r="4.7"/>
<circle cx="918.09" cy="667.69" r="4.7"/>
<circle cx="920.07" cy="667.85" r="4.7"/>
<circle cx="922.05" cy="670.36" r="4.7"/>
<circle cx="924.03" cy="669.62" r="4.7"/>
<circle cx="925.02" cy="671.44" r="4.7"/>
<circle cx="926.01" cy="673.26" r="4.7"/>
<circle cx="927.99" cy="675.41" r="4.7"/>
<circle cx="929.97" cy="676.58" r="4.7"/>
<circle cx="930.96" cy="678.89" r="4.7"/>
<circle cx="931.95" cy="681.21" r="4.7"/>
<circle cx="932.94" cy="683.66" r="4.7"/>
<circle cx="933.93" cy="686.1" r="4.7"/>
<circle cx="935.91" cy="685.11" r="4.7"/>
<circle cx="937.89" cy="684.9" r="4.7"/>
<circle cx="939.87" cy="685.36" r="4.7"/>
<circle cx="941.85" cy="685.8" r="4.7"/>
<circle cx="943.83" cy="685.34" r="4.7"/>
<circle cx="944.82" cy="686.9" r="4.7"/>
<circle cx="945.81" cy="688.47" r="4.7"/>
<circle cx="947.79" cy="689.29" r="4.7"/>
<circle cx="948.78" cy="690.95" r="4.7"/>
<circle cx="949.77" cy="692.61" r="4.7"/>
<circle cx="951.75" cy="694.1" r="4.7"/>
<circle cx="953.73" cy="693.15" r="4.7"/>
<circle cx="955.71" cy="693.38" r="4.7"/>
<circle cx="957.69" cy="692.5" r="4.7"/>
<circle cx="959.67" cy="694.92" r="4.7"/>
<circle cx="960.66" cy="693.64" r="4.7"/>
<circle cx="961.65" cy="692.36" r="4.7"/>
<circle cx="963.63" cy="692.12" r="4.7"/>
<circle cx="965.61" cy="692.63" r="4.7"/>
<circle cx="966.6" cy="690.87" r="4.7"/>
<circle cx="967.59" cy="689.1" r="4.7"/>
<circle cx="969.57" cy="691.26" r="4.7"/>
<circle cx="970.56" cy="689.62" r="4.7"/>
<circle cx="971.55" cy="687.98" r="4.7"/>
<circle cx="973.53" cy="687.34" r="4.7"/>
<circle cx="975.51" cy="688.22" r="4.7"/>
<circle cx="977.49" cy="688.01" r="4.7"/>
<circle cx="979.47" cy="689.85" r="4.7"/>
<circle cx="981.45" cy="689.57" r="4.7"/>
<circle cx="983.43" cy="688.96" r="4.7"/>
<circle cx="984.42" cy="687.43" r="4.7"/>
<circle cx="985.41" cy="685.9" r="4.7"/>
<circle cx="987.39" cy="684.05" r="4.7"/>
<circle cx="988.38" cy="682.27" r="4.7"/>
<circle cx="989.37" cy="680.49" r="4.7"/>
<circle cx="991.35" cy="679.91" r="4.7"/>
<circle cx="992.34" cy="677.84" r="4.7"/>
<circle cx="993.33" cy="675.77" r="4.7"/>
<circle cx="995.31" cy="674.2" r="4.7"/>
<circle cx="997.29" cy="674.29" r="4.7"/>
<circle cx="998.28" cy="672.91" r="4.7"/>
<circle cx="999.27" cy="671.53" r="4.7"/>
<circle cx="1001.25" cy="672.04" r="4.7"/>
<circle cx="1003.23" cy="674.16" r="4.7"/>
<circle cx="1004.22" cy="672.66" r="4.7"/>
<circle cx="1005.21" cy="671.17" r="4.7"/>
<circle cx="1007.19" cy="671.66" r="4.7"/>
<circle cx="1009.17" cy="672.2" r="4.7"/>
<circle cx="1011.15" cy="672.68" r="4.7"/>
<circle cx="1013.13" cy="673.61" r="4.7"/>
</g>
</g>
<rect class="ax" x="68.5" y="89.5" width="945" height="614"/>
<g class="ax">
<path d="M68.5 703.5h-4.9M1013.5 703.5h4.9"/>
<path d="M68.5 641.5h-4.9M1013.5 641.5h4.9"/>
<path d="M68.5 580.5h-4.9M1013.5 580.5h4.9"/>
<path d="M68.5 519.5h-4.9M1013.5 519.5h4.9"/>
<path d="M68.5 457.5h-4.9M1013.5 457.5h4.9"/>
<path d="M68.5 396.5h-4.9M1013.5 396.5h4.9"/>
<path d="M68.5 334.5h-4.9M1013.5 334.5h4.9"/>
<path d="M68.5 273.5h-4.9M1013.5 273.5h4.9"/>
<path d="M68.5 211.5h-4.9M1013.5 211.5h4.9"/>
<path d="M68.5 150.5h-4.9M1013.5 150.5h4.9"/>
<path d="M68.5 89.5h-4.9M1013.5 89.5h4.9"/>
<path d="M68.5 703.5v3.7"/>
<path d="M147.5 703.5v3.7"/>
<path d="M226.5 703.5v3.7"/>
<path d="M306.5 703.5v3.7"/>
<path d="M385.5 703.5v3.7"/>
<path d="M464.5 703.5v3.7"/>
<path d="M544.5 703.5v3.7"/>
<path d="M623.5 703.5v3.7"/>
<path d="M702.5 703.5v3.7"/>
<path d="M781.5 703.5v3.7"/>
<path d="M861.5 703.5v3.7"/>
<path d="M940.5 703.5v3.7"/>
</g>
<g class="t">
<text x="58.5" y="710.2" text-anchor="end">0</text>
<text x="1022.6" y="710.2">0</text>
<text x="58.5" y="648.2" text-anchor="end">1</text>
<text x="1022.6" y="648.2">1</text>
<text x="58.5" y="587.2" text-anchor="end">2</text>
<text x="1022.6" y="587.2">2</text>
<text x="58.5" y="526.2" text-anchor="end">3</text>
<text x="1022.6" y="526.2">3</text>
<text x="58.5" y="464.2" text-anchor="end">4</text>
<text x="1022.6" y="464.2">4</text>
<text x="58.5" y="403.2" text-anchor="end">5</text>
<text x="1022.6" y="403.2">5</text>
<text x="58.5" y="341.2" text-anchor="end">6</text>
<text x="1022.6" y="341.2">6</text>
<text x="58.5" y="280.2" text-anchor="end">7</text>
<text x="1022.6" y="280.2">7</text>
<text x="58.5" y="218.2" text-anchor="end">8</text>
<text x="1022.6" y="218.2">8</text>
<text x="58.5" y="157.2" text-anchor="end">9</text>
<text x="1022.6" y="157.2">9</text>
<text x="58.5" y="96.2" text-anchor="end">10</text>
<text x="1022.6" y="96.2">10</text>
<text transform="translate(68 725.8) scale(1.02 1.065)" text-anchor="middle">18</text>
<text transform="translate(147 725.8) scale(1.02 1.065)" text-anchor="middle">20</text>
<text transform="translate(226 725.8) scale(1.02 1.065)" text-anchor="middle">22</text>
<text transform="translate(304.9 725.8) scale(.981 1.065)" text-anchor="middle">Jan-26</text>
<text transform="translate(385 725.8) scale(1.02 1.065)" text-anchor="middle">02</text>
<text transform="translate(464 725.8) scale(1.02 1.065)" text-anchor="middle">04</text>
<text transform="translate(544 725.8) scale(1.02 1.065)" text-anchor="middle">06</text>
<text transform="translate(623 725.8) scale(1.02 1.065)" text-anchor="middle">08</text>
<text transform="translate(702 725.8) scale(1.02 1.065)" text-anchor="middle">10</text>
<text transform="translate(781 725.8) scale(1.02 1.065)" text-anchor="middle">12</text>
<text transform="translate(861 725.8) scale(1.02 1.065)" text-anchor="middle">14</text>
<text transform="translate(940 725.8) scale(1.02 1.065)" text-anchor="middle">16</text>
</g>
<g class="l">
<text x="541" y="751.9" text-anchor="middle">Time (UTC)</text>
<text transform="translate(24.7 397.2) rotate(-90)" text-anchor="middle" font-size="20.95">Cloud Base (km)</text>
<text transform="translate(1067.1 396.6) rotate(-90)" text-anchor="middle" font-size="20.95">Integrated Moisture (mm liquid | cm vapor)</text>
</g>
<rect x="766.7" y="98.4" width="236.8" height="120.8" rx="2.8" fill="#fff" fill-opacity=".8" stroke="#ccc" stroke-opacity=".8" stroke-width="1.4"/>
<circle cx="794.55" cy="116.6" r="4.9"/>
<circle cx="794.55" cy="145.6" r="4.9" fill="#f00"/>
<circle cx="794.55" cy="173.9" r="4.9" fill="#00f"/>
<path d="M773.1 199.9H813.8" stroke="#008000" stroke-opacity=".5" stroke-width="2.1" fill="none"/>
<g class="lg">
<text x="828.9" y="121.2">Cloud Base</text>
<text x="828.9" y="149.9">Integrated Vapor</text>
<text x="828.9" y="178.6">Integrated Liquid</text>
<text x="828.9" y="207.3">Rain Flag</text>
</g>
<g id="logo">
<path d="M985.9 753.7 L988.4 752.1 L991.3 750.1 L992.3 747.9 L991.1 745.6 L992.0 744.3 L995.5 743.3 L999.4 744.3 L1004.6 744.3 L1007.2 743.0 L1009.7 741.7 L1009.9 739.5 L1009.1 737.5 L1011.7 735.9 L1013.0 734.6 L1013.3 732.3 L1015.2 730.7 L1017.5 729.9 L1028.2 729.9 L1028.6 733.6 L1028.4 736.9 L1028.8 740.1 L1029.5 742.7 L1029.3 749.2 L1028.8 755.6 L1028.2 760.8 L1027.5 763.4 L1027.1 764.8 L1029.1 765.4 L1035.0 764.2 L1038.5 763.1 L1038.7 763.5 L1035.0 765.1 L1029.1 767.4 L1023.3 769.8 L1023.0 769.2 L1025.3 766.6 L1026.0 765.3 L1024.6 764.0 L1021.4 762.1 L1018.1 760.8 L1016.9 759.2 L1015.2 757.2 L1014.3 756.9 L1005.9 756.9 L986.5 756.6 L985.9 755.9Z" fill="#efa90b"/>
<g font-family="'Liberation Sans','DejaVu Sans',sans-serif" font-weight="bold">
<text x="1008.2" y="754.5" font-size="14.3" fill="#fff" stroke="#fff" stroke-width=".55" stroke-linejoin="round" textLength="17.8" lengthAdjust="spacingAndGlyphs">NYS</text>
<text x="1031.3" y="754.5" font-size="14.6" fill="#4f2b7a" stroke="#4f2b7a" stroke-width=".8" stroke-linejoin="round" textLength="42" lengthAdjust="spacingAndGlyphs">Mesonet</text>
<text x="1031" y="759.9" font-size="3.4" fill="#4f2b7a" stroke="#4f2b7a" stroke-width=".12" fill-opacity=".85" textLength="42.6" lengthAdjust="spacing">UNIVERSITY AT ALBANY</text>
</g>
</g>
</svg></body></html>
